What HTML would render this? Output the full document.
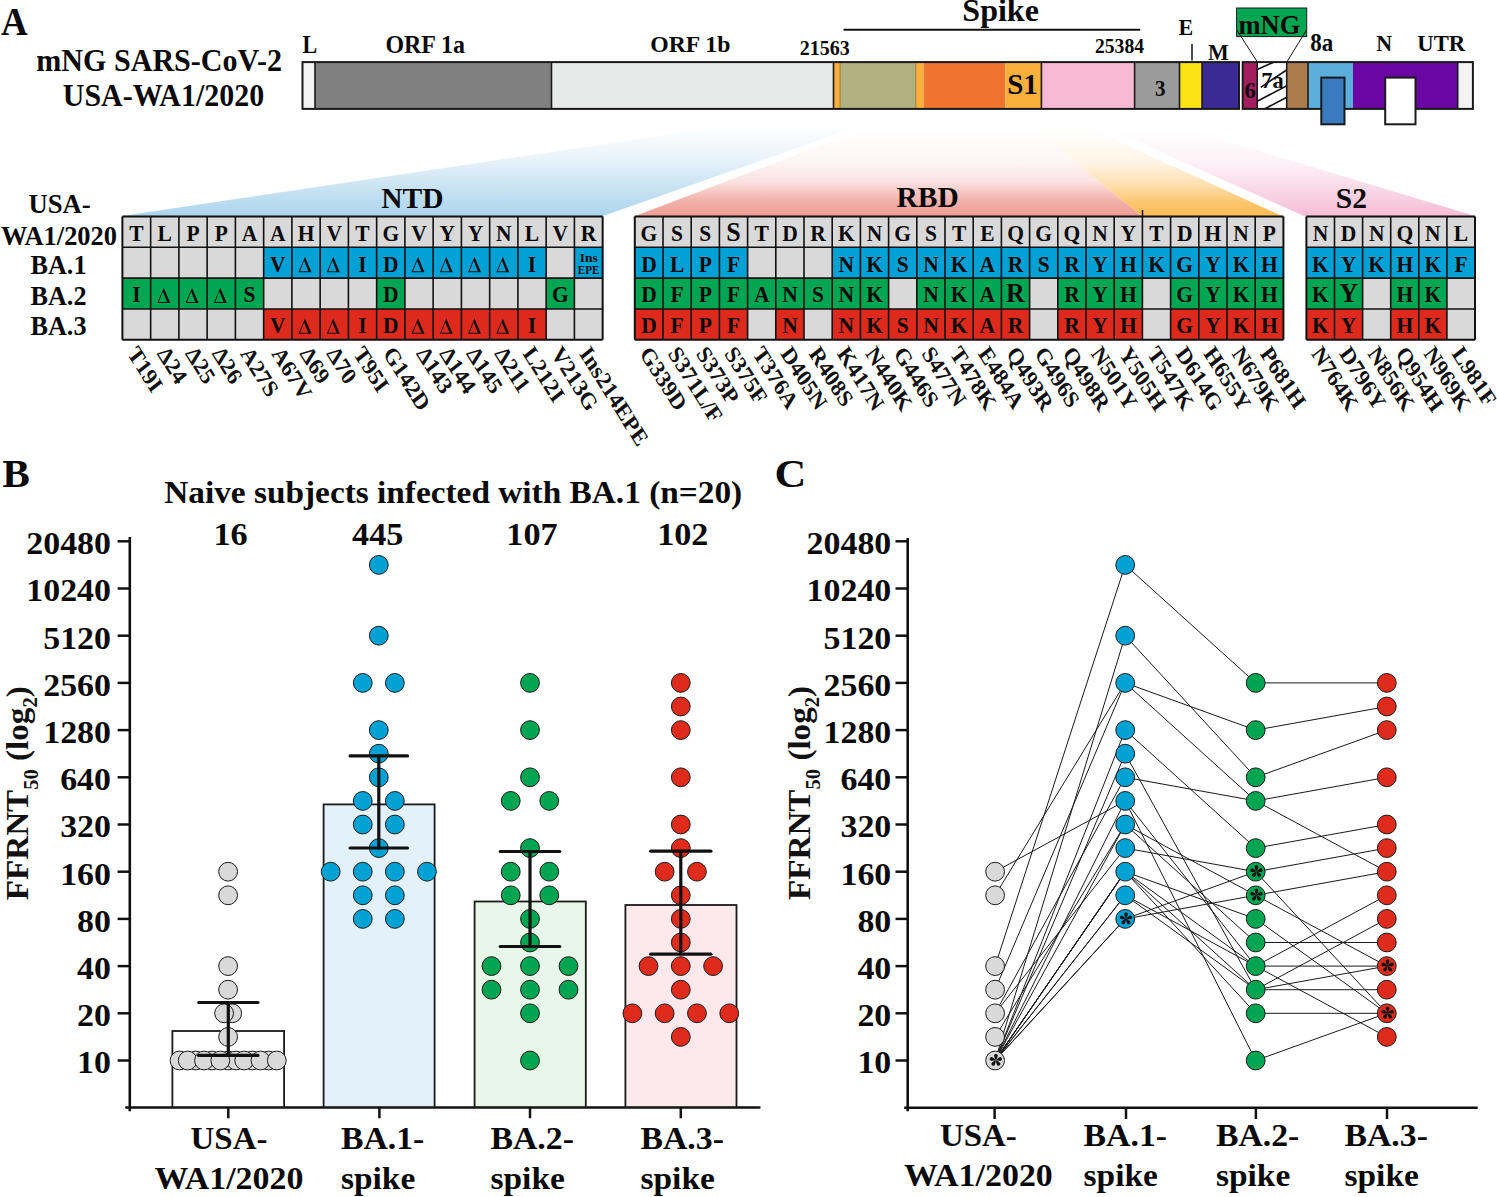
<!DOCTYPE html><html><head><meta charset="utf-8"><style>html,body{margin:0;padding:0;background:#fff;width:1497px;height:1197px;overflow:hidden}svg{display:block}text{font-family:"Liberation Serif",serif}</style></head><body>
<svg width="1497" height="1197" viewBox="0 0 1497 1197">
<defs>
<linearGradient id="gb" x1="0" y1="109" x2="0" y2="216" gradientUnits="userSpaceOnUse"><stop offset="0.15" stop-color="#ffffff"/><stop offset="0.45" stop-color="#eaf4fa"/><stop offset="0.7" stop-color="#cde5f4"/><stop offset="1" stop-color="#acd4ec"/></linearGradient>
<linearGradient id="gr" x1="0" y1="109" x2="0" y2="216" gradientUnits="userSpaceOnUse"><stop offset="0.2" stop-color="#ffffff"/><stop offset="0.5" stop-color="#fdf5f4"/><stop offset="0.68" stop-color="#fae2e0"/><stop offset="0.86" stop-color="#f2b1ab"/><stop offset="1" stop-color="#ef9d96"/></linearGradient>
<linearGradient id="go" x1="0" y1="109" x2="0" y2="216" gradientUnits="userSpaceOnUse"><stop offset="0.2" stop-color="#ffffff"/><stop offset="0.5" stop-color="#fef5e6"/><stop offset="0.7" stop-color="#fde0b2"/><stop offset="0.88" stop-color="#fcc56e"/><stop offset="1" stop-color="#fbbb55"/></linearGradient>
<linearGradient id="gp" x1="0" y1="109" x2="0" y2="216" gradientUnits="userSpaceOnUse"><stop offset="0.2" stop-color="#ffffff"/><stop offset="0.5" stop-color="#fdf2f7"/><stop offset="0.7" stop-color="#fadeea"/><stop offset="1" stop-color="#f6bdd6"/></linearGradient>
<pattern id="hatch" patternUnits="userSpaceOnUse" width="14" height="14" patternTransform="rotate(-30)"><rect width="14" height="14" fill="#fff"/><line x1="0" y1="7" x2="14" y2="7" stroke="#111" stroke-width="1.8"/></pattern>
<g id="ast"><path d="M0,0 C-1.0,-1.6 -1.9,-3.6 -1.8,-5.1 C-1.7,-6.7 1.7,-6.7 1.8,-5.1 C1.9,-3.6 1.0,-1.6 0,0Z" transform="rotate(0)" fill="#111"/><path d="M0,0 C-1.0,-1.6 -1.9,-3.6 -1.8,-5.1 C-1.7,-6.7 1.7,-6.7 1.8,-5.1 C1.9,-3.6 1.0,-1.6 0,0Z" transform="rotate(72)" fill="#111"/><path d="M0,0 C-1.0,-1.6 -1.9,-3.6 -1.8,-5.1 C-1.7,-6.7 1.7,-6.7 1.8,-5.1 C1.9,-3.6 1.0,-1.6 0,0Z" transform="rotate(144)" fill="#111"/><path d="M0,0 C-1.0,-1.6 -1.9,-3.6 -1.8,-5.1 C-1.7,-6.7 1.7,-6.7 1.8,-5.1 C1.9,-3.6 1.0,-1.6 0,0Z" transform="rotate(216)" fill="#111"/><path d="M0,0 C-1.0,-1.6 -1.9,-3.6 -1.8,-5.1 C-1.7,-6.7 1.7,-6.7 1.8,-5.1 C1.9,-3.6 1.0,-1.6 0,0Z" transform="rotate(288)" fill="#111"/></g>
</defs>
<polygon points="122,216 603,216 908,109 840,109" fill="url(#gb)"/>
<polygon points="635,216 1142,216 1009,109 917,109" fill="url(#gr)"/>
<polygon points="1142,216 1282,216 1048,109 1009,109" fill="url(#go)"/>
<polygon points="1304,216 1475,216 1121,109 1064,109" fill="url(#gp)"/>
<text transform="translate(1.00,34.50) scale(1.000,1.080)" font-size="37" text-anchor="start" fill="#0a0a0a" font-weight="bold" >A</text>
<text transform="translate(159.20,70.50) scale(1.020,1.050)" font-size="29.5" text-anchor="middle" fill="#0a0a0a" font-weight="bold" >mNG SARS-CoV-2</text>
<text transform="translate(163.50,106.20) scale(1.026,1.050)" font-size="29.2" text-anchor="middle" fill="#0a0a0a" font-weight="bold" >USA-WA1/2020</text>
<rect x="302.50" y="62.10" width="12.50" height="46.80" fill="#f3f3f3" stroke="none" stroke-width="0" />
<rect x="315.00" y="62.10" width="236.50" height="46.80" fill="#808080" stroke="none" stroke-width="0" />
<rect x="551.50" y="62.10" width="282.00" height="46.80" fill="#e8eae9" stroke="none" stroke-width="0" />
<rect x="833.50" y="62.10" width="6.50" height="46.80" fill="#fbb03b" stroke="none" stroke-width="0" />
<rect x="840.00" y="62.10" width="75.80" height="46.80" fill="#b1b080" stroke="none" stroke-width="0" />
<rect x="915.80" y="62.10" width="7.80" height="46.80" fill="#fbb03b" stroke="none" stroke-width="0" />
<rect x="923.60" y="62.10" width="81.80" height="46.80" fill="#ef7430" stroke="none" stroke-width="0" />
<rect x="1005.40" y="62.10" width="36.00" height="46.80" fill="#fbb03b" stroke="none" stroke-width="0" />
<rect x="1041.40" y="62.10" width="93.20" height="46.80" fill="#f9b9d5" stroke="none" stroke-width="0" />
<rect x="1134.60" y="62.10" width="44.90" height="46.80" fill="#9a9b9a" stroke="none" stroke-width="0" />
<rect x="1179.50" y="62.10" width="22.50" height="46.80" fill="#fde214" stroke="none" stroke-width="0" />
<rect x="1202.00" y="62.10" width="37.00" height="46.80" fill="#3b2a94" stroke="none" stroke-width="0" />
<rect x="1242.70" y="62.10" width="14.50" height="46.80" fill="#a21e5f" stroke="none" stroke-width="0" />
<rect x="1257.20" y="62.10" width="29.50" height="46.80" fill="#ffffff" stroke="none" stroke-width="0" />
<rect x="1286.70" y="62.10" width="21.30" height="46.80" fill="#ab7b4a" stroke="none" stroke-width="0" />
<rect x="1308.00" y="62.10" width="45.00" height="46.80" fill="#5aafdd" stroke="none" stroke-width="0" />
<rect x="1353.00" y="62.10" width="104.70" height="46.80" fill="#6a06a1" stroke="none" stroke-width="0" />
<rect x="1457.70" y="62.10" width="15.20" height="46.80" fill="#f3f3f3" stroke="none" stroke-width="0" />
<line x1="315.00" y1="62.10" x2="315.00" y2="108.90" stroke="#1a1a1a" stroke-width="1.6" />
<line x1="551.50" y1="62.10" x2="551.50" y2="108.90" stroke="#1a1a1a" stroke-width="1.6" />
<line x1="833.50" y1="62.10" x2="833.50" y2="108.90" stroke="#1a1a1a" stroke-width="1.6" />
<line x1="1041.40" y1="62.10" x2="1041.40" y2="108.90" stroke="#1a1a1a" stroke-width="1.6" />
<line x1="1134.60" y1="62.10" x2="1134.60" y2="108.90" stroke="#1a1a1a" stroke-width="1.6" />
<line x1="1179.50" y1="62.10" x2="1179.50" y2="108.90" stroke="#1a1a1a" stroke-width="1.6" />
<line x1="1202.00" y1="62.10" x2="1202.00" y2="108.90" stroke="#1a1a1a" stroke-width="1.6" />
<line x1="1257.20" y1="62.10" x2="1257.20" y2="108.90" stroke="#1a1a1a" stroke-width="1.6" />
<line x1="1286.70" y1="62.10" x2="1286.70" y2="108.90" stroke="#1a1a1a" stroke-width="1.6" />
<line x1="1308.00" y1="62.10" x2="1308.00" y2="108.90" stroke="#1a1a1a" stroke-width="1.6" />
<line x1="1457.70" y1="62.10" x2="1457.70" y2="108.90" stroke="#1a1a1a" stroke-width="1.6" />
<line x1="840.00" y1="62.10" x2="840.00" y2="108.90" stroke="#8a6a30" stroke-width="0.8" />
<line x1="915.80" y1="62.10" x2="915.80" y2="108.90" stroke="#8a6a30" stroke-width="0.8" />
<rect x="302.50" y="62.10" width="936.50" height="46.80" fill="none" stroke="#1a1a1a" stroke-width="2" />
<rect x="1242.70" y="62.10" width="230.20" height="46.80" fill="none" stroke="#1a1a1a" stroke-width="2" />
<rect x="1321.30" y="77.60" width="23.20" height="46.70" fill="#3a7bc0" stroke="#1a1a1a" stroke-width="2" />
<rect x="1385.20" y="77.60" width="30.30" height="46.70" fill="#ffffff" stroke="#1a1a1a" stroke-width="2" />
<text transform="translate(302.40,52.60) scale(1.000,1.100)" font-size="22" text-anchor="start" fill="#0a0a0a" font-weight="bold" >L</text>
<text transform="translate(425.20,52.60) scale(1.050,1.100)" font-size="22.8" text-anchor="middle" fill="#0a0a0a" font-weight="bold" >ORF 1a</text>
<text transform="translate(690.30,52.40) scale(1.040,1.050)" font-size="22.8" text-anchor="middle" fill="#0a0a0a" font-weight="bold" >ORF 1b</text>
<text transform="translate(824.80,54.50) scale(1.000,1.050)" font-size="20" text-anchor="middle" fill="#0a0a0a" font-weight="bold" >21563</text>
<text transform="translate(1119.50,52.90) scale(1.000,1.050)" font-size="19.6" text-anchor="middle" fill="#0a0a0a" font-weight="bold" >25384</text>
<text transform="translate(1000.60,21.00) scale(1.050,1.000)" font-size="30.5" text-anchor="middle" fill="#0a0a0a" font-weight="bold" >Spike</text>
<line x1="843.60" y1="29.70" x2="1140.20" y2="29.70" stroke="#111" stroke-width="2" />
<text transform="translate(1185.80,35.30) scale(1.000,1.050)" font-size="22" text-anchor="middle" fill="#0a0a0a" font-weight="bold" >E</text>
<line x1="1192.00" y1="44.00" x2="1192.00" y2="60.60" stroke="#111" stroke-width="1.5" />
<text transform="translate(1218.40,60.00) scale(1.000,1.050)" font-size="22" text-anchor="middle" fill="#0a0a0a" font-weight="bold" >M</text>
<rect x="1236.60" y="8.00" width="70.10" height="28.60" fill="#00a651" stroke="#1a1a1a" stroke-width="1" />
<text transform="translate(1269.40,33.50) scale(1.040,1.050)" font-size="25.5" text-anchor="middle" fill="#0a0a0a" font-weight="bold" >mNG</text>
<line x1="1236.80" y1="30.00" x2="1257.20" y2="61.70" stroke="#111" stroke-width="1" />
<line x1="1306.50" y1="30.00" x2="1287.00" y2="61.70" stroke="#111" stroke-width="1" />
<text transform="translate(1321.80,50.80) scale(1.000,1.050)" font-size="23" text-anchor="middle" fill="#0a0a0a" font-weight="bold" >8a</text>
<text transform="translate(1384.30,50.80) scale(1.000,1.050)" font-size="22" text-anchor="middle" fill="#0a0a0a" font-weight="bold" >N</text>
<text transform="translate(1441.30,50.80) scale(1.000,1.050)" font-size="22.7" text-anchor="middle" fill="#0a0a0a" font-weight="bold" >UTR</text>
<text transform="translate(1022.50,93.80) scale(1.000,1.050)" font-size="29" text-anchor="middle" fill="#0a0a0a" font-weight="bold" >S1</text>
<text transform="translate(1160.20,96.00) scale(1.000,1.050)" font-size="21" text-anchor="middle" fill="#0a0a0a" font-weight="bold" >3</text>
<text transform="translate(1250.10,98.20) scale(1.000,1.050)" font-size="22.5" text-anchor="middle" fill="#0a0a0a" font-weight="bold" >6</text>
<text transform="translate(1272.60,88.00) scale(1.000,1.050)" font-size="22.5" text-anchor="middle" fill="#0a0a0a" font-weight="bold" >7a</text>
<clipPath id="c7a"><rect x="1257.2" y="62" width="29.5" height="46.5"/></clipPath>
<g clip-path="url(#c7a)" stroke="#111" stroke-width="1.6">
<line x1="1250.00" y1="72.56" x2="1295.00" y2="52.91" stroke="#111" stroke-width="1.6" />
<line x1="1250.00" y1="105.04" x2="1295.00" y2="81.44" stroke="#111" stroke-width="1.6" />
<line x1="1250.00" y1="116.64" x2="1295.00" y2="92.86" stroke="#111" stroke-width="1.6" />
<line x1="1260.70" y1="87.30" x2="1287.00" y2="69.70" stroke="#111" stroke-width="1.6" />
</g>
<rect x="122.40" y="216.40" width="28.25" height="30.85" fill="#d9d9d9" stroke="none" stroke-width="0" />
<rect x="150.65" y="216.40" width="28.25" height="30.85" fill="#d9d9d9" stroke="none" stroke-width="0" />
<rect x="178.90" y="216.40" width="28.25" height="30.85" fill="#d9d9d9" stroke="none" stroke-width="0" />
<rect x="207.15" y="216.40" width="28.25" height="30.85" fill="#d9d9d9" stroke="none" stroke-width="0" />
<rect x="235.40" y="216.40" width="28.25" height="30.85" fill="#d9d9d9" stroke="none" stroke-width="0" />
<rect x="263.65" y="216.40" width="28.25" height="30.85" fill="#d9d9d9" stroke="none" stroke-width="0" />
<rect x="291.90" y="216.40" width="28.25" height="30.85" fill="#d9d9d9" stroke="none" stroke-width="0" />
<rect x="320.15" y="216.40" width="28.25" height="30.85" fill="#d9d9d9" stroke="none" stroke-width="0" />
<rect x="348.40" y="216.40" width="28.25" height="30.85" fill="#d9d9d9" stroke="none" stroke-width="0" />
<rect x="376.65" y="216.40" width="28.25" height="30.85" fill="#d9d9d9" stroke="none" stroke-width="0" />
<rect x="404.90" y="216.40" width="28.25" height="30.85" fill="#d9d9d9" stroke="none" stroke-width="0" />
<rect x="433.15" y="216.40" width="28.25" height="30.85" fill="#d9d9d9" stroke="none" stroke-width="0" />
<rect x="461.40" y="216.40" width="28.25" height="30.85" fill="#d9d9d9" stroke="none" stroke-width="0" />
<rect x="489.65" y="216.40" width="28.25" height="30.85" fill="#d9d9d9" stroke="none" stroke-width="0" />
<rect x="517.90" y="216.40" width="28.25" height="30.85" fill="#d9d9d9" stroke="none" stroke-width="0" />
<rect x="546.15" y="216.40" width="28.25" height="30.85" fill="#d9d9d9" stroke="none" stroke-width="0" />
<rect x="574.40" y="216.40" width="28.25" height="30.85" fill="#d9d9d9" stroke="none" stroke-width="0" />
<rect x="122.40" y="247.25" width="28.25" height="30.85" fill="#d9d9d9" stroke="none" stroke-width="0" />
<rect x="150.65" y="247.25" width="28.25" height="30.85" fill="#d9d9d9" stroke="none" stroke-width="0" />
<rect x="178.90" y="247.25" width="28.25" height="30.85" fill="#d9d9d9" stroke="none" stroke-width="0" />
<rect x="207.15" y="247.25" width="28.25" height="30.85" fill="#d9d9d9" stroke="none" stroke-width="0" />
<rect x="235.40" y="247.25" width="28.25" height="30.85" fill="#d9d9d9" stroke="none" stroke-width="0" />
<rect x="263.65" y="247.25" width="28.25" height="30.85" fill="#00a2d6" stroke="none" stroke-width="0" />
<rect x="291.90" y="247.25" width="28.25" height="30.85" fill="#00a2d6" stroke="none" stroke-width="0" />
<rect x="320.15" y="247.25" width="28.25" height="30.85" fill="#00a2d6" stroke="none" stroke-width="0" />
<rect x="348.40" y="247.25" width="28.25" height="30.85" fill="#00a2d6" stroke="none" stroke-width="0" />
<rect x="376.65" y="247.25" width="28.25" height="30.85" fill="#00a2d6" stroke="none" stroke-width="0" />
<rect x="404.90" y="247.25" width="28.25" height="30.85" fill="#00a2d6" stroke="none" stroke-width="0" />
<rect x="433.15" y="247.25" width="28.25" height="30.85" fill="#00a2d6" stroke="none" stroke-width="0" />
<rect x="461.40" y="247.25" width="28.25" height="30.85" fill="#00a2d6" stroke="none" stroke-width="0" />
<rect x="489.65" y="247.25" width="28.25" height="30.85" fill="#00a2d6" stroke="none" stroke-width="0" />
<rect x="517.90" y="247.25" width="28.25" height="30.85" fill="#00a2d6" stroke="none" stroke-width="0" />
<rect x="546.15" y="247.25" width="28.25" height="30.85" fill="#d9d9d9" stroke="none" stroke-width="0" />
<rect x="574.40" y="247.25" width="28.25" height="30.85" fill="#00a2d6" stroke="none" stroke-width="0" />
<rect x="122.40" y="278.10" width="28.25" height="30.85" fill="#00a651" stroke="none" stroke-width="0" />
<rect x="150.65" y="278.10" width="28.25" height="30.85" fill="#00a651" stroke="none" stroke-width="0" />
<rect x="178.90" y="278.10" width="28.25" height="30.85" fill="#00a651" stroke="none" stroke-width="0" />
<rect x="207.15" y="278.10" width="28.25" height="30.85" fill="#00a651" stroke="none" stroke-width="0" />
<rect x="235.40" y="278.10" width="28.25" height="30.85" fill="#00a651" stroke="none" stroke-width="0" />
<rect x="263.65" y="278.10" width="28.25" height="30.85" fill="#d9d9d9" stroke="none" stroke-width="0" />
<rect x="291.90" y="278.10" width="28.25" height="30.85" fill="#d9d9d9" stroke="none" stroke-width="0" />
<rect x="320.15" y="278.10" width="28.25" height="30.85" fill="#d9d9d9" stroke="none" stroke-width="0" />
<rect x="348.40" y="278.10" width="28.25" height="30.85" fill="#d9d9d9" stroke="none" stroke-width="0" />
<rect x="376.65" y="278.10" width="28.25" height="30.85" fill="#00a651" stroke="none" stroke-width="0" />
<rect x="404.90" y="278.10" width="28.25" height="30.85" fill="#d9d9d9" stroke="none" stroke-width="0" />
<rect x="433.15" y="278.10" width="28.25" height="30.85" fill="#d9d9d9" stroke="none" stroke-width="0" />
<rect x="461.40" y="278.10" width="28.25" height="30.85" fill="#d9d9d9" stroke="none" stroke-width="0" />
<rect x="489.65" y="278.10" width="28.25" height="30.85" fill="#d9d9d9" stroke="none" stroke-width="0" />
<rect x="517.90" y="278.10" width="28.25" height="30.85" fill="#d9d9d9" stroke="none" stroke-width="0" />
<rect x="546.15" y="278.10" width="28.25" height="30.85" fill="#00a651" stroke="none" stroke-width="0" />
<rect x="574.40" y="278.10" width="28.25" height="30.85" fill="#d9d9d9" stroke="none" stroke-width="0" />
<rect x="122.40" y="308.95" width="28.25" height="30.85" fill="#d9d9d9" stroke="none" stroke-width="0" />
<rect x="150.65" y="308.95" width="28.25" height="30.85" fill="#d9d9d9" stroke="none" stroke-width="0" />
<rect x="178.90" y="308.95" width="28.25" height="30.85" fill="#d9d9d9" stroke="none" stroke-width="0" />
<rect x="207.15" y="308.95" width="28.25" height="30.85" fill="#d9d9d9" stroke="none" stroke-width="0" />
<rect x="235.40" y="308.95" width="28.25" height="30.85" fill="#d9d9d9" stroke="none" stroke-width="0" />
<rect x="263.65" y="308.95" width="28.25" height="30.85" fill="#de2a1c" stroke="none" stroke-width="0" />
<rect x="291.90" y="308.95" width="28.25" height="30.85" fill="#de2a1c" stroke="none" stroke-width="0" />
<rect x="320.15" y="308.95" width="28.25" height="30.85" fill="#de2a1c" stroke="none" stroke-width="0" />
<rect x="348.40" y="308.95" width="28.25" height="30.85" fill="#de2a1c" stroke="none" stroke-width="0" />
<rect x="376.65" y="308.95" width="28.25" height="30.85" fill="#de2a1c" stroke="none" stroke-width="0" />
<rect x="404.90" y="308.95" width="28.25" height="30.85" fill="#de2a1c" stroke="none" stroke-width="0" />
<rect x="433.15" y="308.95" width="28.25" height="30.85" fill="#de2a1c" stroke="none" stroke-width="0" />
<rect x="461.40" y="308.95" width="28.25" height="30.85" fill="#de2a1c" stroke="none" stroke-width="0" />
<rect x="489.65" y="308.95" width="28.25" height="30.85" fill="#de2a1c" stroke="none" stroke-width="0" />
<rect x="517.90" y="308.95" width="28.25" height="30.85" fill="#de2a1c" stroke="none" stroke-width="0" />
<rect x="546.15" y="308.95" width="28.25" height="30.85" fill="#d9d9d9" stroke="none" stroke-width="0" />
<rect x="574.40" y="308.95" width="28.25" height="30.85" fill="#d9d9d9" stroke="none" stroke-width="0" />
<line x1="122.40" y1="216.40" x2="602.65" y2="216.40" stroke="#111" stroke-width="2" />
<line x1="122.40" y1="247.25" x2="602.65" y2="247.25" stroke="#111" stroke-width="1.6" />
<line x1="122.40" y1="278.10" x2="602.65" y2="278.10" stroke="#111" stroke-width="1.6" />
<line x1="122.40" y1="308.95" x2="602.65" y2="308.95" stroke="#111" stroke-width="1.6" />
<line x1="122.40" y1="339.80" x2="602.65" y2="339.80" stroke="#111" stroke-width="2" />
<line x1="122.40" y1="216.40" x2="122.40" y2="339.80" stroke="#111" stroke-width="2" />
<line x1="150.65" y1="216.40" x2="150.65" y2="339.80" stroke="#111" stroke-width="1.6" />
<line x1="178.90" y1="216.40" x2="178.90" y2="339.80" stroke="#111" stroke-width="1.6" />
<line x1="207.15" y1="216.40" x2="207.15" y2="339.80" stroke="#111" stroke-width="1.6" />
<line x1="235.40" y1="216.40" x2="235.40" y2="339.80" stroke="#111" stroke-width="1.6" />
<line x1="263.65" y1="216.40" x2="263.65" y2="339.80" stroke="#111" stroke-width="1.6" />
<line x1="291.90" y1="216.40" x2="291.90" y2="339.80" stroke="#111" stroke-width="1.6" />
<line x1="320.15" y1="216.40" x2="320.15" y2="339.80" stroke="#111" stroke-width="1.6" />
<line x1="348.40" y1="216.40" x2="348.40" y2="339.80" stroke="#111" stroke-width="1.6" />
<line x1="376.65" y1="216.40" x2="376.65" y2="339.80" stroke="#111" stroke-width="1.6" />
<line x1="404.90" y1="216.40" x2="404.90" y2="339.80" stroke="#111" stroke-width="1.6" />
<line x1="433.15" y1="216.40" x2="433.15" y2="339.80" stroke="#111" stroke-width="1.6" />
<line x1="461.40" y1="216.40" x2="461.40" y2="339.80" stroke="#111" stroke-width="1.6" />
<line x1="489.65" y1="216.40" x2="489.65" y2="339.80" stroke="#111" stroke-width="1.6" />
<line x1="517.90" y1="216.40" x2="517.90" y2="339.80" stroke="#111" stroke-width="1.6" />
<line x1="546.15" y1="216.40" x2="546.15" y2="339.80" stroke="#111" stroke-width="1.6" />
<line x1="574.40" y1="216.40" x2="574.40" y2="339.80" stroke="#111" stroke-width="1.6" />
<line x1="602.65" y1="216.40" x2="602.65" y2="339.80" stroke="#111" stroke-width="2" />
<text transform="translate(136.53,240.70) scale(1.000,1.080)" font-size="21.5" text-anchor="middle" fill="#0a0a0a" font-weight="bold" >T</text>
<text transform="translate(164.78,240.70) scale(1.000,1.080)" font-size="21.5" text-anchor="middle" fill="#0a0a0a" font-weight="bold" >L</text>
<text transform="translate(193.03,240.70) scale(1.000,1.080)" font-size="21.5" text-anchor="middle" fill="#0a0a0a" font-weight="bold" >P</text>
<text transform="translate(221.28,240.70) scale(1.000,1.080)" font-size="21.5" text-anchor="middle" fill="#0a0a0a" font-weight="bold" >P</text>
<text transform="translate(249.53,240.70) scale(1.000,1.080)" font-size="21.5" text-anchor="middle" fill="#0a0a0a" font-weight="bold" >A</text>
<text transform="translate(277.77,240.70) scale(1.000,1.080)" font-size="21.5" text-anchor="middle" fill="#0a0a0a" font-weight="bold" >A</text>
<text transform="translate(306.02,240.70) scale(1.000,1.080)" font-size="21.5" text-anchor="middle" fill="#0a0a0a" font-weight="bold" >H</text>
<text transform="translate(334.27,240.70) scale(1.000,1.080)" font-size="21.5" text-anchor="middle" fill="#0a0a0a" font-weight="bold" >V</text>
<text transform="translate(362.52,240.70) scale(1.000,1.080)" font-size="21.5" text-anchor="middle" fill="#0a0a0a" font-weight="bold" >T</text>
<text transform="translate(390.77,240.70) scale(1.000,1.080)" font-size="21.5" text-anchor="middle" fill="#0a0a0a" font-weight="bold" >G</text>
<text transform="translate(419.02,240.70) scale(1.000,1.080)" font-size="21.5" text-anchor="middle" fill="#0a0a0a" font-weight="bold" >V</text>
<text transform="translate(447.27,240.70) scale(1.000,1.080)" font-size="21.5" text-anchor="middle" fill="#0a0a0a" font-weight="bold" >Y</text>
<text transform="translate(475.52,240.70) scale(1.000,1.080)" font-size="21.5" text-anchor="middle" fill="#0a0a0a" font-weight="bold" >Y</text>
<text transform="translate(503.77,240.70) scale(1.000,1.080)" font-size="21.5" text-anchor="middle" fill="#0a0a0a" font-weight="bold" >N</text>
<text transform="translate(532.02,240.70) scale(1.000,1.080)" font-size="21.5" text-anchor="middle" fill="#0a0a0a" font-weight="bold" >L</text>
<text transform="translate(560.27,240.70) scale(1.000,1.080)" font-size="21.5" text-anchor="middle" fill="#0a0a0a" font-weight="bold" >V</text>
<text transform="translate(588.52,240.70) scale(1.000,1.080)" font-size="21.5" text-anchor="middle" fill="#0a0a0a" font-weight="bold" >R</text>
<text transform="translate(277.77,271.55) scale(1.000,1.080)" font-size="21.5" text-anchor="middle" fill="#0a0a0a" font-weight="bold" >V</text>
<path transform="translate(305.02,272.15)" fill="#111" fill-rule="evenodd" d="M0,-15.3 L6.5,0 L-6.5,0 Z M-0.9,-11.4 L-5.0,-1.0 L3.3,-1.0 Z"/>
<path transform="translate(333.27,272.15)" fill="#111" fill-rule="evenodd" d="M0,-15.3 L6.5,0 L-6.5,0 Z M-0.9,-11.4 L-5.0,-1.0 L3.3,-1.0 Z"/>
<text transform="translate(362.52,271.55) scale(1.000,1.080)" font-size="21.5" text-anchor="middle" fill="#0a0a0a" font-weight="bold" >I</text>
<text transform="translate(390.77,271.55) scale(1.000,1.080)" font-size="21.5" text-anchor="middle" fill="#0a0a0a" font-weight="bold" >D</text>
<path transform="translate(418.02,272.15)" fill="#111" fill-rule="evenodd" d="M0,-15.3 L6.5,0 L-6.5,0 Z M-0.9,-11.4 L-5.0,-1.0 L3.3,-1.0 Z"/>
<path transform="translate(446.27,272.15)" fill="#111" fill-rule="evenodd" d="M0,-15.3 L6.5,0 L-6.5,0 Z M-0.9,-11.4 L-5.0,-1.0 L3.3,-1.0 Z"/>
<path transform="translate(474.52,272.15)" fill="#111" fill-rule="evenodd" d="M0,-15.3 L6.5,0 L-6.5,0 Z M-0.9,-11.4 L-5.0,-1.0 L3.3,-1.0 Z"/>
<path transform="translate(502.77,272.15)" fill="#111" fill-rule="evenodd" d="M0,-15.3 L6.5,0 L-6.5,0 Z M-0.9,-11.4 L-5.0,-1.0 L3.3,-1.0 Z"/>
<text transform="translate(532.02,271.55) scale(1.000,1.080)" font-size="21.5" text-anchor="middle" fill="#0a0a0a" font-weight="bold" >I</text>
<text transform="translate(588.82,261.65) scale(1.120,1.050)" font-size="12" text-anchor="middle" fill="#0a0a0a" font-weight="bold" >Ins</text>
<text transform="translate(588.52,274.05) scale(1.000,1.050)" font-size="11" text-anchor="middle" fill="#0a0a0a" font-weight="bold" >EPE</text>
<text transform="translate(136.53,302.40) scale(1.000,1.080)" font-size="21.5" text-anchor="middle" fill="#0a0a0a" font-weight="bold" >I</text>
<path transform="translate(163.78,303.00)" fill="#111" fill-rule="evenodd" d="M0,-15.3 L6.5,0 L-6.5,0 Z M-0.9,-11.4 L-5.0,-1.0 L3.3,-1.0 Z"/>
<path transform="translate(192.03,303.00)" fill="#111" fill-rule="evenodd" d="M0,-15.3 L6.5,0 L-6.5,0 Z M-0.9,-11.4 L-5.0,-1.0 L3.3,-1.0 Z"/>
<path transform="translate(220.28,303.00)" fill="#111" fill-rule="evenodd" d="M0,-15.3 L6.5,0 L-6.5,0 Z M-0.9,-11.4 L-5.0,-1.0 L3.3,-1.0 Z"/>
<text transform="translate(249.53,302.40) scale(1.000,1.080)" font-size="21.5" text-anchor="middle" fill="#0a0a0a" font-weight="bold" >S</text>
<text transform="translate(390.77,302.40) scale(1.000,1.080)" font-size="21.5" text-anchor="middle" fill="#0a0a0a" font-weight="bold" >D</text>
<text transform="translate(560.27,302.40) scale(1.000,1.080)" font-size="21.5" text-anchor="middle" fill="#0a0a0a" font-weight="bold" >G</text>
<text transform="translate(277.77,333.25) scale(1.000,1.080)" font-size="21.5" text-anchor="middle" fill="#0a0a0a" font-weight="bold" >V</text>
<path transform="translate(305.02,333.85)" fill="#111" fill-rule="evenodd" d="M0,-15.3 L6.5,0 L-6.5,0 Z M-0.9,-11.4 L-5.0,-1.0 L3.3,-1.0 Z"/>
<path transform="translate(333.27,333.85)" fill="#111" fill-rule="evenodd" d="M0,-15.3 L6.5,0 L-6.5,0 Z M-0.9,-11.4 L-5.0,-1.0 L3.3,-1.0 Z"/>
<text transform="translate(362.52,333.25) scale(1.000,1.080)" font-size="21.5" text-anchor="middle" fill="#0a0a0a" font-weight="bold" >I</text>
<text transform="translate(390.77,333.25) scale(1.000,1.080)" font-size="21.5" text-anchor="middle" fill="#0a0a0a" font-weight="bold" >D</text>
<path transform="translate(418.02,333.85)" fill="#111" fill-rule="evenodd" d="M0,-15.3 L6.5,0 L-6.5,0 Z M-0.9,-11.4 L-5.0,-1.0 L3.3,-1.0 Z"/>
<path transform="translate(446.27,333.85)" fill="#111" fill-rule="evenodd" d="M0,-15.3 L6.5,0 L-6.5,0 Z M-0.9,-11.4 L-5.0,-1.0 L3.3,-1.0 Z"/>
<path transform="translate(474.52,333.85)" fill="#111" fill-rule="evenodd" d="M0,-15.3 L6.5,0 L-6.5,0 Z M-0.9,-11.4 L-5.0,-1.0 L3.3,-1.0 Z"/>
<path transform="translate(502.77,333.85)" fill="#111" fill-rule="evenodd" d="M0,-15.3 L6.5,0 L-6.5,0 Z M-0.9,-11.4 L-5.0,-1.0 L3.3,-1.0 Z"/>
<text transform="translate(532.02,333.25) scale(1.000,1.080)" font-size="21.5" text-anchor="middle" fill="#0a0a0a" font-weight="bold" >I</text>
<text transform="translate(126.70,353.70) scale(1,1.12) rotate(55)" font-size="21.5" font-weight="bold" fill="#111">T19I</text>
<text transform="translate(156.45,353.70) scale(1,1.12) rotate(55)" font-size="21.5" font-weight="bold" fill="#111">Δ24</text>
<text transform="translate(184.70,353.70) scale(1,1.12) rotate(55)" font-size="21.5" font-weight="bold" fill="#111">Δ25</text>
<text transform="translate(211.45,353.70) scale(1,1.12) rotate(55)" font-size="21.5" font-weight="bold" fill="#111">Δ26</text>
<text transform="translate(239.70,353.70) scale(1,1.12) rotate(55)" font-size="21.5" font-weight="bold" fill="#111">A27S</text>
<text transform="translate(270.95,353.70) scale(1,1.12) rotate(55)" font-size="21.5" font-weight="bold" fill="#111">A67V</text>
<text transform="translate(299.20,353.70) scale(1,1.12) rotate(55)" font-size="21.5" font-weight="bold" fill="#111">Δ69</text>
<text transform="translate(325.95,353.70) scale(1,1.12) rotate(55)" font-size="21.5" font-weight="bold" fill="#111">Δ70</text>
<text transform="translate(352.70,353.70) scale(1,1.12) rotate(55)" font-size="21.5" font-weight="bold" fill="#111">T95I</text>
<text transform="translate(382.45,353.70) scale(1,1.12) rotate(55)" font-size="21.5" font-weight="bold" fill="#111">G142D</text>
<text transform="translate(415.70,353.70) scale(1,1.12) rotate(55)" font-size="21.5" font-weight="bold" fill="#111">Δ143</text>
<text transform="translate(438.95,353.70) scale(1,1.12) rotate(55)" font-size="21.5" font-weight="bold" fill="#111">Δ144</text>
<text transform="translate(465.70,353.70) scale(1,1.12) rotate(55)" font-size="21.5" font-weight="bold" fill="#111">Δ145</text>
<text transform="translate(493.95,353.70) scale(1,1.12) rotate(55)" font-size="21.5" font-weight="bold" fill="#111">Δ211</text>
<text transform="translate(522.20,353.70) scale(1,1.12) rotate(55)" font-size="21.5" font-weight="bold" fill="#111">L212I</text>
<text transform="translate(550.45,353.70) scale(1,1.12) rotate(55)" font-size="21.5" font-weight="bold" fill="#111">V213G</text>
<text transform="translate(578.70,353.70) scale(1,1.12) rotate(55)" font-size="21.5" font-weight="bold" fill="#111">Ins214EPE</text>
<rect x="634.80" y="216.40" width="28.20" height="30.85" fill="#d9d9d9" stroke="none" stroke-width="0" />
<rect x="663.00" y="216.40" width="28.20" height="30.85" fill="#d9d9d9" stroke="none" stroke-width="0" />
<rect x="691.20" y="216.40" width="28.20" height="30.85" fill="#d9d9d9" stroke="none" stroke-width="0" />
<rect x="719.40" y="216.40" width="28.20" height="30.85" fill="#d9d9d9" stroke="none" stroke-width="0" />
<rect x="747.60" y="216.40" width="28.20" height="30.85" fill="#d9d9d9" stroke="none" stroke-width="0" />
<rect x="775.80" y="216.40" width="28.20" height="30.85" fill="#d9d9d9" stroke="none" stroke-width="0" />
<rect x="804.00" y="216.40" width="28.20" height="30.85" fill="#d9d9d9" stroke="none" stroke-width="0" />
<rect x="832.20" y="216.40" width="28.20" height="30.85" fill="#d9d9d9" stroke="none" stroke-width="0" />
<rect x="860.40" y="216.40" width="28.20" height="30.85" fill="#d9d9d9" stroke="none" stroke-width="0" />
<rect x="888.60" y="216.40" width="28.20" height="30.85" fill="#d9d9d9" stroke="none" stroke-width="0" />
<rect x="916.80" y="216.40" width="28.20" height="30.85" fill="#d9d9d9" stroke="none" stroke-width="0" />
<rect x="945.00" y="216.40" width="28.20" height="30.85" fill="#d9d9d9" stroke="none" stroke-width="0" />
<rect x="973.20" y="216.40" width="28.20" height="30.85" fill="#d9d9d9" stroke="none" stroke-width="0" />
<rect x="1001.40" y="216.40" width="28.20" height="30.85" fill="#d9d9d9" stroke="none" stroke-width="0" />
<rect x="1029.60" y="216.40" width="28.20" height="30.85" fill="#d9d9d9" stroke="none" stroke-width="0" />
<rect x="1057.80" y="216.40" width="28.20" height="30.85" fill="#d9d9d9" stroke="none" stroke-width="0" />
<rect x="1086.00" y="216.40" width="28.20" height="30.85" fill="#d9d9d9" stroke="none" stroke-width="0" />
<rect x="1114.20" y="216.40" width="28.20" height="30.85" fill="#d9d9d9" stroke="none" stroke-width="0" />
<rect x="1142.40" y="216.40" width="28.20" height="30.85" fill="#d9d9d9" stroke="none" stroke-width="0" />
<rect x="1170.60" y="216.40" width="28.20" height="30.85" fill="#d9d9d9" stroke="none" stroke-width="0" />
<rect x="1198.80" y="216.40" width="28.20" height="30.85" fill="#d9d9d9" stroke="none" stroke-width="0" />
<rect x="1227.00" y="216.40" width="28.20" height="30.85" fill="#d9d9d9" stroke="none" stroke-width="0" />
<rect x="1255.20" y="216.40" width="28.20" height="30.85" fill="#d9d9d9" stroke="none" stroke-width="0" />
<rect x="634.80" y="247.25" width="28.20" height="30.85" fill="#00a2d6" stroke="none" stroke-width="0" />
<rect x="663.00" y="247.25" width="28.20" height="30.85" fill="#00a2d6" stroke="none" stroke-width="0" />
<rect x="691.20" y="247.25" width="28.20" height="30.85" fill="#00a2d6" stroke="none" stroke-width="0" />
<rect x="719.40" y="247.25" width="28.20" height="30.85" fill="#00a2d6" stroke="none" stroke-width="0" />
<rect x="747.60" y="247.25" width="28.20" height="30.85" fill="#d9d9d9" stroke="none" stroke-width="0" />
<rect x="775.80" y="247.25" width="28.20" height="30.85" fill="#d9d9d9" stroke="none" stroke-width="0" />
<rect x="804.00" y="247.25" width="28.20" height="30.85" fill="#d9d9d9" stroke="none" stroke-width="0" />
<rect x="832.20" y="247.25" width="28.20" height="30.85" fill="#00a2d6" stroke="none" stroke-width="0" />
<rect x="860.40" y="247.25" width="28.20" height="30.85" fill="#00a2d6" stroke="none" stroke-width="0" />
<rect x="888.60" y="247.25" width="28.20" height="30.85" fill="#00a2d6" stroke="none" stroke-width="0" />
<rect x="916.80" y="247.25" width="28.20" height="30.85" fill="#00a2d6" stroke="none" stroke-width="0" />
<rect x="945.00" y="247.25" width="28.20" height="30.85" fill="#00a2d6" stroke="none" stroke-width="0" />
<rect x="973.20" y="247.25" width="28.20" height="30.85" fill="#00a2d6" stroke="none" stroke-width="0" />
<rect x="1001.40" y="247.25" width="28.20" height="30.85" fill="#00a2d6" stroke="none" stroke-width="0" />
<rect x="1029.60" y="247.25" width="28.20" height="30.85" fill="#00a2d6" stroke="none" stroke-width="0" />
<rect x="1057.80" y="247.25" width="28.20" height="30.85" fill="#00a2d6" stroke="none" stroke-width="0" />
<rect x="1086.00" y="247.25" width="28.20" height="30.85" fill="#00a2d6" stroke="none" stroke-width="0" />
<rect x="1114.20" y="247.25" width="28.20" height="30.85" fill="#00a2d6" stroke="none" stroke-width="0" />
<rect x="1142.40" y="247.25" width="28.20" height="30.85" fill="#00a2d6" stroke="none" stroke-width="0" />
<rect x="1170.60" y="247.25" width="28.20" height="30.85" fill="#00a2d6" stroke="none" stroke-width="0" />
<rect x="1198.80" y="247.25" width="28.20" height="30.85" fill="#00a2d6" stroke="none" stroke-width="0" />
<rect x="1227.00" y="247.25" width="28.20" height="30.85" fill="#00a2d6" stroke="none" stroke-width="0" />
<rect x="1255.20" y="247.25" width="28.20" height="30.85" fill="#00a2d6" stroke="none" stroke-width="0" />
<rect x="634.80" y="278.10" width="28.20" height="30.85" fill="#00a651" stroke="none" stroke-width="0" />
<rect x="663.00" y="278.10" width="28.20" height="30.85" fill="#00a651" stroke="none" stroke-width="0" />
<rect x="691.20" y="278.10" width="28.20" height="30.85" fill="#00a651" stroke="none" stroke-width="0" />
<rect x="719.40" y="278.10" width="28.20" height="30.85" fill="#00a651" stroke="none" stroke-width="0" />
<rect x="747.60" y="278.10" width="28.20" height="30.85" fill="#00a651" stroke="none" stroke-width="0" />
<rect x="775.80" y="278.10" width="28.20" height="30.85" fill="#00a651" stroke="none" stroke-width="0" />
<rect x="804.00" y="278.10" width="28.20" height="30.85" fill="#00a651" stroke="none" stroke-width="0" />
<rect x="832.20" y="278.10" width="28.20" height="30.85" fill="#00a651" stroke="none" stroke-width="0" />
<rect x="860.40" y="278.10" width="28.20" height="30.85" fill="#00a651" stroke="none" stroke-width="0" />
<rect x="888.60" y="278.10" width="28.20" height="30.85" fill="#d9d9d9" stroke="none" stroke-width="0" />
<rect x="916.80" y="278.10" width="28.20" height="30.85" fill="#00a651" stroke="none" stroke-width="0" />
<rect x="945.00" y="278.10" width="28.20" height="30.85" fill="#00a651" stroke="none" stroke-width="0" />
<rect x="973.20" y="278.10" width="28.20" height="30.85" fill="#00a651" stroke="none" stroke-width="0" />
<rect x="1001.40" y="278.10" width="28.20" height="30.85" fill="#00a651" stroke="none" stroke-width="0" />
<rect x="1029.60" y="278.10" width="28.20" height="30.85" fill="#d9d9d9" stroke="none" stroke-width="0" />
<rect x="1057.80" y="278.10" width="28.20" height="30.85" fill="#00a651" stroke="none" stroke-width="0" />
<rect x="1086.00" y="278.10" width="28.20" height="30.85" fill="#00a651" stroke="none" stroke-width="0" />
<rect x="1114.20" y="278.10" width="28.20" height="30.85" fill="#00a651" stroke="none" stroke-width="0" />
<rect x="1142.40" y="278.10" width="28.20" height="30.85" fill="#d9d9d9" stroke="none" stroke-width="0" />
<rect x="1170.60" y="278.10" width="28.20" height="30.85" fill="#00a651" stroke="none" stroke-width="0" />
<rect x="1198.80" y="278.10" width="28.20" height="30.85" fill="#00a651" stroke="none" stroke-width="0" />
<rect x="1227.00" y="278.10" width="28.20" height="30.85" fill="#00a651" stroke="none" stroke-width="0" />
<rect x="1255.20" y="278.10" width="28.20" height="30.85" fill="#00a651" stroke="none" stroke-width="0" />
<rect x="634.80" y="308.95" width="28.20" height="30.85" fill="#de2a1c" stroke="none" stroke-width="0" />
<rect x="663.00" y="308.95" width="28.20" height="30.85" fill="#de2a1c" stroke="none" stroke-width="0" />
<rect x="691.20" y="308.95" width="28.20" height="30.85" fill="#de2a1c" stroke="none" stroke-width="0" />
<rect x="719.40" y="308.95" width="28.20" height="30.85" fill="#de2a1c" stroke="none" stroke-width="0" />
<rect x="747.60" y="308.95" width="28.20" height="30.85" fill="#d9d9d9" stroke="none" stroke-width="0" />
<rect x="775.80" y="308.95" width="28.20" height="30.85" fill="#de2a1c" stroke="none" stroke-width="0" />
<rect x="804.00" y="308.95" width="28.20" height="30.85" fill="#d9d9d9" stroke="none" stroke-width="0" />
<rect x="832.20" y="308.95" width="28.20" height="30.85" fill="#de2a1c" stroke="none" stroke-width="0" />
<rect x="860.40" y="308.95" width="28.20" height="30.85" fill="#de2a1c" stroke="none" stroke-width="0" />
<rect x="888.60" y="308.95" width="28.20" height="30.85" fill="#de2a1c" stroke="none" stroke-width="0" />
<rect x="916.80" y="308.95" width="28.20" height="30.85" fill="#de2a1c" stroke="none" stroke-width="0" />
<rect x="945.00" y="308.95" width="28.20" height="30.85" fill="#de2a1c" stroke="none" stroke-width="0" />
<rect x="973.20" y="308.95" width="28.20" height="30.85" fill="#de2a1c" stroke="none" stroke-width="0" />
<rect x="1001.40" y="308.95" width="28.20" height="30.85" fill="#de2a1c" stroke="none" stroke-width="0" />
<rect x="1029.60" y="308.95" width="28.20" height="30.85" fill="#d9d9d9" stroke="none" stroke-width="0" />
<rect x="1057.80" y="308.95" width="28.20" height="30.85" fill="#de2a1c" stroke="none" stroke-width="0" />
<rect x="1086.00" y="308.95" width="28.20" height="30.85" fill="#de2a1c" stroke="none" stroke-width="0" />
<rect x="1114.20" y="308.95" width="28.20" height="30.85" fill="#de2a1c" stroke="none" stroke-width="0" />
<rect x="1142.40" y="308.95" width="28.20" height="30.85" fill="#d9d9d9" stroke="none" stroke-width="0" />
<rect x="1170.60" y="308.95" width="28.20" height="30.85" fill="#de2a1c" stroke="none" stroke-width="0" />
<rect x="1198.80" y="308.95" width="28.20" height="30.85" fill="#de2a1c" stroke="none" stroke-width="0" />
<rect x="1227.00" y="308.95" width="28.20" height="30.85" fill="#de2a1c" stroke="none" stroke-width="0" />
<rect x="1255.20" y="308.95" width="28.20" height="30.85" fill="#de2a1c" stroke="none" stroke-width="0" />
<line x1="634.80" y1="216.40" x2="1283.40" y2="216.40" stroke="#111" stroke-width="2" />
<line x1="634.80" y1="247.25" x2="1283.40" y2="247.25" stroke="#111" stroke-width="1.6" />
<line x1="634.80" y1="278.10" x2="1283.40" y2="278.10" stroke="#111" stroke-width="1.6" />
<line x1="634.80" y1="308.95" x2="1283.40" y2="308.95" stroke="#111" stroke-width="1.6" />
<line x1="634.80" y1="339.80" x2="1283.40" y2="339.80" stroke="#111" stroke-width="2" />
<line x1="634.80" y1="216.40" x2="634.80" y2="339.80" stroke="#111" stroke-width="2" />
<line x1="663.00" y1="216.40" x2="663.00" y2="339.80" stroke="#111" stroke-width="1.6" />
<line x1="691.20" y1="216.40" x2="691.20" y2="339.80" stroke="#111" stroke-width="1.6" />
<line x1="719.40" y1="216.40" x2="719.40" y2="339.80" stroke="#111" stroke-width="1.6" />
<line x1="747.60" y1="216.40" x2="747.60" y2="339.80" stroke="#111" stroke-width="1.6" />
<line x1="775.80" y1="216.40" x2="775.80" y2="339.80" stroke="#111" stroke-width="1.6" />
<line x1="804.00" y1="216.40" x2="804.00" y2="339.80" stroke="#111" stroke-width="1.6" />
<line x1="832.20" y1="216.40" x2="832.20" y2="339.80" stroke="#111" stroke-width="1.6" />
<line x1="860.40" y1="216.40" x2="860.40" y2="339.80" stroke="#111" stroke-width="1.6" />
<line x1="888.60" y1="216.40" x2="888.60" y2="339.80" stroke="#111" stroke-width="1.6" />
<line x1="916.80" y1="216.40" x2="916.80" y2="339.80" stroke="#111" stroke-width="1.6" />
<line x1="945.00" y1="216.40" x2="945.00" y2="339.80" stroke="#111" stroke-width="1.6" />
<line x1="973.20" y1="216.40" x2="973.20" y2="339.80" stroke="#111" stroke-width="1.6" />
<line x1="1001.40" y1="216.40" x2="1001.40" y2="339.80" stroke="#111" stroke-width="1.6" />
<line x1="1029.60" y1="216.40" x2="1029.60" y2="339.80" stroke="#111" stroke-width="1.6" />
<line x1="1057.80" y1="216.40" x2="1057.80" y2="339.80" stroke="#111" stroke-width="1.6" />
<line x1="1086.00" y1="216.40" x2="1086.00" y2="339.80" stroke="#111" stroke-width="1.6" />
<line x1="1114.20" y1="216.40" x2="1114.20" y2="339.80" stroke="#111" stroke-width="1.6" />
<line x1="1142.40" y1="216.40" x2="1142.40" y2="339.80" stroke="#111" stroke-width="1.6" />
<line x1="1170.60" y1="216.40" x2="1170.60" y2="339.80" stroke="#111" stroke-width="1.6" />
<line x1="1198.80" y1="216.40" x2="1198.80" y2="339.80" stroke="#111" stroke-width="1.6" />
<line x1="1227.00" y1="216.40" x2="1227.00" y2="339.80" stroke="#111" stroke-width="1.6" />
<line x1="1255.20" y1="216.40" x2="1255.20" y2="339.80" stroke="#111" stroke-width="1.6" />
<line x1="1283.40" y1="216.40" x2="1283.40" y2="339.80" stroke="#111" stroke-width="2" />
<text transform="translate(648.90,240.70) scale(1.000,1.080)" font-size="21.5" text-anchor="middle" fill="#0a0a0a" font-weight="bold" >G</text>
<text transform="translate(677.10,240.70) scale(1.000,1.080)" font-size="21.5" text-anchor="middle" fill="#0a0a0a" font-weight="bold" >S</text>
<text transform="translate(705.30,240.70) scale(1.000,1.080)" font-size="21.5" text-anchor="middle" fill="#0a0a0a" font-weight="bold" >S</text>
<text transform="translate(733.50,240.70) scale(1.000,1.080)" font-size="26" text-anchor="middle" fill="#0a0a0a" font-weight="bold" >S</text>
<text transform="translate(761.70,240.70) scale(1.000,1.080)" font-size="21.5" text-anchor="middle" fill="#0a0a0a" font-weight="bold" >T</text>
<text transform="translate(789.90,240.70) scale(1.000,1.080)" font-size="21.5" text-anchor="middle" fill="#0a0a0a" font-weight="bold" >D</text>
<text transform="translate(818.10,240.70) scale(1.000,1.080)" font-size="21.5" text-anchor="middle" fill="#0a0a0a" font-weight="bold" >R</text>
<text transform="translate(846.30,240.70) scale(1.000,1.080)" font-size="21.5" text-anchor="middle" fill="#0a0a0a" font-weight="bold" >K</text>
<text transform="translate(874.50,240.70) scale(1.000,1.080)" font-size="21.5" text-anchor="middle" fill="#0a0a0a" font-weight="bold" >N</text>
<text transform="translate(902.70,240.70) scale(1.000,1.080)" font-size="21.5" text-anchor="middle" fill="#0a0a0a" font-weight="bold" >G</text>
<text transform="translate(930.90,240.70) scale(1.000,1.080)" font-size="21.5" text-anchor="middle" fill="#0a0a0a" font-weight="bold" >S</text>
<text transform="translate(959.10,240.70) scale(1.000,1.080)" font-size="21.5" text-anchor="middle" fill="#0a0a0a" font-weight="bold" >T</text>
<text transform="translate(987.30,240.70) scale(1.000,1.080)" font-size="21.5" text-anchor="middle" fill="#0a0a0a" font-weight="bold" >E</text>
<text transform="translate(1015.50,240.70) scale(1.000,1.080)" font-size="21.5" text-anchor="middle" fill="#0a0a0a" font-weight="bold" >Q</text>
<text transform="translate(1043.70,240.70) scale(1.000,1.080)" font-size="21.5" text-anchor="middle" fill="#0a0a0a" font-weight="bold" >G</text>
<text transform="translate(1071.90,240.70) scale(1.000,1.080)" font-size="21.5" text-anchor="middle" fill="#0a0a0a" font-weight="bold" >Q</text>
<text transform="translate(1100.10,240.70) scale(1.000,1.080)" font-size="21.5" text-anchor="middle" fill="#0a0a0a" font-weight="bold" >N</text>
<text transform="translate(1128.30,240.70) scale(1.000,1.080)" font-size="21.5" text-anchor="middle" fill="#0a0a0a" font-weight="bold" >Y</text>
<text transform="translate(1156.50,240.70) scale(1.000,1.080)" font-size="21.5" text-anchor="middle" fill="#0a0a0a" font-weight="bold" >T</text>
<text transform="translate(1184.70,240.70) scale(1.000,1.080)" font-size="21.5" text-anchor="middle" fill="#0a0a0a" font-weight="bold" >D</text>
<text transform="translate(1212.90,240.70) scale(1.000,1.080)" font-size="21.5" text-anchor="middle" fill="#0a0a0a" font-weight="bold" >H</text>
<text transform="translate(1241.10,240.70) scale(1.000,1.080)" font-size="21.5" text-anchor="middle" fill="#0a0a0a" font-weight="bold" >N</text>
<text transform="translate(1269.30,240.70) scale(1.000,1.080)" font-size="21.5" text-anchor="middle" fill="#0a0a0a" font-weight="bold" >P</text>
<text transform="translate(648.90,271.55) scale(1.000,1.080)" font-size="21.5" text-anchor="middle" fill="#0a0a0a" font-weight="bold" >D</text>
<text transform="translate(677.10,271.55) scale(1.000,1.080)" font-size="21.5" text-anchor="middle" fill="#0a0a0a" font-weight="bold" >L</text>
<text transform="translate(705.30,271.55) scale(1.000,1.080)" font-size="21.5" text-anchor="middle" fill="#0a0a0a" font-weight="bold" >P</text>
<text transform="translate(733.50,271.55) scale(1.000,1.080)" font-size="21.5" text-anchor="middle" fill="#0a0a0a" font-weight="bold" >F</text>
<text transform="translate(846.30,271.55) scale(1.000,1.080)" font-size="21.5" text-anchor="middle" fill="#0a0a0a" font-weight="bold" >N</text>
<text transform="translate(874.50,271.55) scale(1.000,1.080)" font-size="21.5" text-anchor="middle" fill="#0a0a0a" font-weight="bold" >K</text>
<text transform="translate(902.70,271.55) scale(1.000,1.080)" font-size="21.5" text-anchor="middle" fill="#0a0a0a" font-weight="bold" >S</text>
<text transform="translate(930.90,271.55) scale(1.000,1.080)" font-size="21.5" text-anchor="middle" fill="#0a0a0a" font-weight="bold" >N</text>
<text transform="translate(959.10,271.55) scale(1.000,1.080)" font-size="21.5" text-anchor="middle" fill="#0a0a0a" font-weight="bold" >K</text>
<text transform="translate(987.30,271.55) scale(1.000,1.080)" font-size="21.5" text-anchor="middle" fill="#0a0a0a" font-weight="bold" >A</text>
<text transform="translate(1015.50,271.55) scale(1.000,1.080)" font-size="21.5" text-anchor="middle" fill="#0a0a0a" font-weight="bold" >R</text>
<text transform="translate(1043.70,271.55) scale(1.000,1.080)" font-size="21.5" text-anchor="middle" fill="#0a0a0a" font-weight="bold" >S</text>
<text transform="translate(1071.90,271.55) scale(1.000,1.080)" font-size="21.5" text-anchor="middle" fill="#0a0a0a" font-weight="bold" >R</text>
<text transform="translate(1100.10,271.55) scale(1.000,1.080)" font-size="21.5" text-anchor="middle" fill="#0a0a0a" font-weight="bold" >Y</text>
<text transform="translate(1128.30,271.55) scale(1.000,1.080)" font-size="21.5" text-anchor="middle" fill="#0a0a0a" font-weight="bold" >H</text>
<text transform="translate(1156.50,271.55) scale(1.000,1.080)" font-size="21.5" text-anchor="middle" fill="#0a0a0a" font-weight="bold" >K</text>
<text transform="translate(1184.70,271.55) scale(1.000,1.080)" font-size="21.5" text-anchor="middle" fill="#0a0a0a" font-weight="bold" >G</text>
<text transform="translate(1212.90,271.55) scale(1.000,1.080)" font-size="21.5" text-anchor="middle" fill="#0a0a0a" font-weight="bold" >Y</text>
<text transform="translate(1241.10,271.55) scale(1.000,1.080)" font-size="21.5" text-anchor="middle" fill="#0a0a0a" font-weight="bold" >K</text>
<text transform="translate(1269.30,271.55) scale(1.000,1.080)" font-size="21.5" text-anchor="middle" fill="#0a0a0a" font-weight="bold" >H</text>
<text transform="translate(648.90,302.40) scale(1.000,1.080)" font-size="21.5" text-anchor="middle" fill="#0a0a0a" font-weight="bold" >D</text>
<text transform="translate(677.10,302.40) scale(1.000,1.080)" font-size="21.5" text-anchor="middle" fill="#0a0a0a" font-weight="bold" >F</text>
<text transform="translate(705.30,302.40) scale(1.000,1.080)" font-size="21.5" text-anchor="middle" fill="#0a0a0a" font-weight="bold" >P</text>
<text transform="translate(733.50,302.40) scale(1.000,1.080)" font-size="21.5" text-anchor="middle" fill="#0a0a0a" font-weight="bold" >F</text>
<text transform="translate(761.70,302.40) scale(1.000,1.080)" font-size="21.5" text-anchor="middle" fill="#0a0a0a" font-weight="bold" >A</text>
<text transform="translate(789.90,302.40) scale(1.000,1.080)" font-size="21.5" text-anchor="middle" fill="#0a0a0a" font-weight="bold" >N</text>
<text transform="translate(818.10,302.40) scale(1.000,1.080)" font-size="21.5" text-anchor="middle" fill="#0a0a0a" font-weight="bold" >S</text>
<text transform="translate(846.30,302.40) scale(1.000,1.080)" font-size="21.5" text-anchor="middle" fill="#0a0a0a" font-weight="bold" >N</text>
<text transform="translate(874.50,302.40) scale(1.000,1.080)" font-size="21.5" text-anchor="middle" fill="#0a0a0a" font-weight="bold" >K</text>
<text transform="translate(930.90,302.40) scale(1.000,1.080)" font-size="21.5" text-anchor="middle" fill="#0a0a0a" font-weight="bold" >N</text>
<text transform="translate(959.10,302.40) scale(1.000,1.080)" font-size="21.5" text-anchor="middle" fill="#0a0a0a" font-weight="bold" >K</text>
<text transform="translate(987.30,302.40) scale(1.000,1.080)" font-size="21.5" text-anchor="middle" fill="#0a0a0a" font-weight="bold" >A</text>
<text transform="translate(1015.50,302.40) scale(1.000,1.080)" font-size="26" text-anchor="middle" fill="#0a0a0a" font-weight="bold" >R</text>
<text transform="translate(1071.90,302.40) scale(1.000,1.080)" font-size="21.5" text-anchor="middle" fill="#0a0a0a" font-weight="bold" >R</text>
<text transform="translate(1100.10,302.40) scale(1.000,1.080)" font-size="21.5" text-anchor="middle" fill="#0a0a0a" font-weight="bold" >Y</text>
<text transform="translate(1128.30,302.40) scale(1.000,1.080)" font-size="21.5" text-anchor="middle" fill="#0a0a0a" font-weight="bold" >H</text>
<text transform="translate(1184.70,302.40) scale(1.000,1.080)" font-size="21.5" text-anchor="middle" fill="#0a0a0a" font-weight="bold" >G</text>
<text transform="translate(1212.90,302.40) scale(1.000,1.080)" font-size="21.5" text-anchor="middle" fill="#0a0a0a" font-weight="bold" >Y</text>
<text transform="translate(1241.10,302.40) scale(1.000,1.080)" font-size="21.5" text-anchor="middle" fill="#0a0a0a" font-weight="bold" >K</text>
<text transform="translate(1269.30,302.40) scale(1.000,1.080)" font-size="21.5" text-anchor="middle" fill="#0a0a0a" font-weight="bold" >H</text>
<text transform="translate(648.90,333.25) scale(1.000,1.080)" font-size="21.5" text-anchor="middle" fill="#0a0a0a" font-weight="bold" >D</text>
<text transform="translate(677.10,333.25) scale(1.000,1.080)" font-size="21.5" text-anchor="middle" fill="#0a0a0a" font-weight="bold" >F</text>
<text transform="translate(705.30,333.25) scale(1.000,1.080)" font-size="21.5" text-anchor="middle" fill="#0a0a0a" font-weight="bold" >P</text>
<text transform="translate(733.50,333.25) scale(1.000,1.080)" font-size="21.5" text-anchor="middle" fill="#0a0a0a" font-weight="bold" >F</text>
<text transform="translate(789.90,333.25) scale(1.000,1.080)" font-size="21.5" text-anchor="middle" fill="#0a0a0a" font-weight="bold" >N</text>
<text transform="translate(846.30,333.25) scale(1.000,1.080)" font-size="21.5" text-anchor="middle" fill="#0a0a0a" font-weight="bold" >N</text>
<text transform="translate(874.50,333.25) scale(1.000,1.080)" font-size="21.5" text-anchor="middle" fill="#0a0a0a" font-weight="bold" >K</text>
<text transform="translate(902.70,333.25) scale(1.000,1.080)" font-size="21.5" text-anchor="middle" fill="#0a0a0a" font-weight="bold" >S</text>
<text transform="translate(930.90,333.25) scale(1.000,1.080)" font-size="21.5" text-anchor="middle" fill="#0a0a0a" font-weight="bold" >N</text>
<text transform="translate(959.10,333.25) scale(1.000,1.080)" font-size="21.5" text-anchor="middle" fill="#0a0a0a" font-weight="bold" >K</text>
<text transform="translate(987.30,333.25) scale(1.000,1.080)" font-size="21.5" text-anchor="middle" fill="#0a0a0a" font-weight="bold" >A</text>
<text transform="translate(1015.50,333.25) scale(1.000,1.080)" font-size="21.5" text-anchor="middle" fill="#0a0a0a" font-weight="bold" >R</text>
<text transform="translate(1071.90,333.25) scale(1.000,1.080)" font-size="21.5" text-anchor="middle" fill="#0a0a0a" font-weight="bold" >R</text>
<text transform="translate(1100.10,333.25) scale(1.000,1.080)" font-size="21.5" text-anchor="middle" fill="#0a0a0a" font-weight="bold" >Y</text>
<text transform="translate(1128.30,333.25) scale(1.000,1.080)" font-size="21.5" text-anchor="middle" fill="#0a0a0a" font-weight="bold" >H</text>
<text transform="translate(1184.70,333.25) scale(1.000,1.080)" font-size="21.5" text-anchor="middle" fill="#0a0a0a" font-weight="bold" >G</text>
<text transform="translate(1212.90,333.25) scale(1.000,1.080)" font-size="21.5" text-anchor="middle" fill="#0a0a0a" font-weight="bold" >Y</text>
<text transform="translate(1241.10,333.25) scale(1.000,1.080)" font-size="21.5" text-anchor="middle" fill="#0a0a0a" font-weight="bold" >K</text>
<text transform="translate(1269.30,333.25) scale(1.000,1.080)" font-size="21.5" text-anchor="middle" fill="#0a0a0a" font-weight="bold" >H</text>
<text transform="translate(639.10,353.70) scale(1,1.12) rotate(55)" font-size="21.5" font-weight="bold" fill="#111">G339D</text>
<text transform="translate(667.30,353.70) scale(1,1.12) rotate(55)" font-size="21.5" font-weight="bold" fill="#111">S371L/F</text>
<text transform="translate(695.50,353.70) scale(1,1.12) rotate(55)" font-size="21.5" font-weight="bold" fill="#111">S373P</text>
<text transform="translate(723.70,353.70) scale(1,1.12) rotate(55)" font-size="21.5" font-weight="bold" fill="#111">S375F</text>
<text transform="translate(751.90,353.70) scale(1,1.12) rotate(55)" font-size="21.5" font-weight="bold" fill="#111">T376A</text>
<text transform="translate(780.10,353.70) scale(1,1.12) rotate(55)" font-size="21.5" font-weight="bold" fill="#111">D405N</text>
<text transform="translate(808.30,353.70) scale(1,1.12) rotate(55)" font-size="21.5" font-weight="bold" fill="#111">R408S</text>
<text transform="translate(836.50,353.70) scale(1,1.12) rotate(55)" font-size="21.5" font-weight="bold" fill="#111">K417N</text>
<text transform="translate(864.70,353.70) scale(1,1.12) rotate(55)" font-size="21.5" font-weight="bold" fill="#111">N440K</text>
<text transform="translate(892.90,353.70) scale(1,1.12) rotate(55)" font-size="21.5" font-weight="bold" fill="#111">G446S</text>
<text transform="translate(921.10,353.70) scale(1,1.12) rotate(55)" font-size="21.5" font-weight="bold" fill="#111">S477N</text>
<text transform="translate(949.30,353.70) scale(1,1.12) rotate(55)" font-size="21.5" font-weight="bold" fill="#111">T478K</text>
<text transform="translate(977.50,353.70) scale(1,1.12) rotate(55)" font-size="21.5" font-weight="bold" fill="#111">E484A</text>
<text transform="translate(1005.70,353.70) scale(1,1.12) rotate(55)" font-size="21.5" font-weight="bold" fill="#111">Q493R</text>
<text transform="translate(1033.90,353.70) scale(1,1.12) rotate(55)" font-size="21.5" font-weight="bold" fill="#111">G496S</text>
<text transform="translate(1062.10,353.70) scale(1,1.12) rotate(55)" font-size="21.5" font-weight="bold" fill="#111">Q498R</text>
<text transform="translate(1090.30,353.70) scale(1,1.12) rotate(55)" font-size="21.5" font-weight="bold" fill="#111">N501Y</text>
<text transform="translate(1118.50,353.70) scale(1,1.12) rotate(55)" font-size="21.5" font-weight="bold" fill="#111">Y505H</text>
<text transform="translate(1146.70,353.70) scale(1,1.12) rotate(55)" font-size="21.5" font-weight="bold" fill="#111">T547K</text>
<text transform="translate(1174.90,353.70) scale(1,1.12) rotate(55)" font-size="21.5" font-weight="bold" fill="#111">D614G</text>
<text transform="translate(1203.10,353.70) scale(1,1.12) rotate(55)" font-size="21.5" font-weight="bold" fill="#111">H655Y</text>
<text transform="translate(1231.30,353.70) scale(1,1.12) rotate(55)" font-size="21.5" font-weight="bold" fill="#111">N679K</text>
<text transform="translate(1259.50,353.70) scale(1,1.12) rotate(55)" font-size="21.5" font-weight="bold" fill="#111">P681H</text>
<rect x="1306.40" y="216.40" width="28.10" height="30.85" fill="#d9d9d9" stroke="none" stroke-width="0" />
<rect x="1334.50" y="216.40" width="28.10" height="30.85" fill="#d9d9d9" stroke="none" stroke-width="0" />
<rect x="1362.60" y="216.40" width="28.10" height="30.85" fill="#d9d9d9" stroke="none" stroke-width="0" />
<rect x="1390.70" y="216.40" width="28.10" height="30.85" fill="#d9d9d9" stroke="none" stroke-width="0" />
<rect x="1418.80" y="216.40" width="28.10" height="30.85" fill="#d9d9d9" stroke="none" stroke-width="0" />
<rect x="1446.90" y="216.40" width="28.10" height="30.85" fill="#d9d9d9" stroke="none" stroke-width="0" />
<rect x="1306.40" y="247.25" width="28.10" height="30.85" fill="#00a2d6" stroke="none" stroke-width="0" />
<rect x="1334.50" y="247.25" width="28.10" height="30.85" fill="#00a2d6" stroke="none" stroke-width="0" />
<rect x="1362.60" y="247.25" width="28.10" height="30.85" fill="#00a2d6" stroke="none" stroke-width="0" />
<rect x="1390.70" y="247.25" width="28.10" height="30.85" fill="#00a2d6" stroke="none" stroke-width="0" />
<rect x="1418.80" y="247.25" width="28.10" height="30.85" fill="#00a2d6" stroke="none" stroke-width="0" />
<rect x="1446.90" y="247.25" width="28.10" height="30.85" fill="#00a2d6" stroke="none" stroke-width="0" />
<rect x="1306.40" y="278.10" width="28.10" height="30.85" fill="#00a651" stroke="none" stroke-width="0" />
<rect x="1334.50" y="278.10" width="28.10" height="30.85" fill="#00a651" stroke="none" stroke-width="0" />
<rect x="1362.60" y="278.10" width="28.10" height="30.85" fill="#d9d9d9" stroke="none" stroke-width="0" />
<rect x="1390.70" y="278.10" width="28.10" height="30.85" fill="#00a651" stroke="none" stroke-width="0" />
<rect x="1418.80" y="278.10" width="28.10" height="30.85" fill="#00a651" stroke="none" stroke-width="0" />
<rect x="1446.90" y="278.10" width="28.10" height="30.85" fill="#d9d9d9" stroke="none" stroke-width="0" />
<rect x="1306.40" y="308.95" width="28.10" height="30.85" fill="#de2a1c" stroke="none" stroke-width="0" />
<rect x="1334.50" y="308.95" width="28.10" height="30.85" fill="#de2a1c" stroke="none" stroke-width="0" />
<rect x="1362.60" y="308.95" width="28.10" height="30.85" fill="#d9d9d9" stroke="none" stroke-width="0" />
<rect x="1390.70" y="308.95" width="28.10" height="30.85" fill="#de2a1c" stroke="none" stroke-width="0" />
<rect x="1418.80" y="308.95" width="28.10" height="30.85" fill="#de2a1c" stroke="none" stroke-width="0" />
<rect x="1446.90" y="308.95" width="28.10" height="30.85" fill="#d9d9d9" stroke="none" stroke-width="0" />
<line x1="1306.40" y1="216.40" x2="1475.00" y2="216.40" stroke="#111" stroke-width="2" />
<line x1="1306.40" y1="247.25" x2="1475.00" y2="247.25" stroke="#111" stroke-width="1.6" />
<line x1="1306.40" y1="278.10" x2="1475.00" y2="278.10" stroke="#111" stroke-width="1.6" />
<line x1="1306.40" y1="308.95" x2="1475.00" y2="308.95" stroke="#111" stroke-width="1.6" />
<line x1="1306.40" y1="339.80" x2="1475.00" y2="339.80" stroke="#111" stroke-width="2" />
<line x1="1306.40" y1="216.40" x2="1306.40" y2="339.80" stroke="#111" stroke-width="2" />
<line x1="1334.50" y1="216.40" x2="1334.50" y2="339.80" stroke="#111" stroke-width="1.6" />
<line x1="1362.60" y1="216.40" x2="1362.60" y2="339.80" stroke="#111" stroke-width="1.6" />
<line x1="1390.70" y1="216.40" x2="1390.70" y2="339.80" stroke="#111" stroke-width="1.6" />
<line x1="1418.80" y1="216.40" x2="1418.80" y2="339.80" stroke="#111" stroke-width="1.6" />
<line x1="1446.90" y1="216.40" x2="1446.90" y2="339.80" stroke="#111" stroke-width="1.6" />
<line x1="1475.00" y1="216.40" x2="1475.00" y2="339.80" stroke="#111" stroke-width="2" />
<text transform="translate(1320.45,240.70) scale(1.000,1.080)" font-size="21.5" text-anchor="middle" fill="#0a0a0a" font-weight="bold" >N</text>
<text transform="translate(1348.55,240.70) scale(1.000,1.080)" font-size="21.5" text-anchor="middle" fill="#0a0a0a" font-weight="bold" >D</text>
<text transform="translate(1376.65,240.70) scale(1.000,1.080)" font-size="21.5" text-anchor="middle" fill="#0a0a0a" font-weight="bold" >N</text>
<text transform="translate(1404.75,240.70) scale(1.000,1.080)" font-size="21.5" text-anchor="middle" fill="#0a0a0a" font-weight="bold" >Q</text>
<text transform="translate(1432.85,240.70) scale(1.000,1.080)" font-size="21.5" text-anchor="middle" fill="#0a0a0a" font-weight="bold" >N</text>
<text transform="translate(1460.95,240.70) scale(1.000,1.080)" font-size="21.5" text-anchor="middle" fill="#0a0a0a" font-weight="bold" >L</text>
<text transform="translate(1320.45,271.55) scale(1.000,1.080)" font-size="21.5" text-anchor="middle" fill="#0a0a0a" font-weight="bold" >K</text>
<text transform="translate(1348.55,271.55) scale(1.000,1.080)" font-size="21.5" text-anchor="middle" fill="#0a0a0a" font-weight="bold" >Y</text>
<text transform="translate(1376.65,271.55) scale(1.000,1.080)" font-size="21.5" text-anchor="middle" fill="#0a0a0a" font-weight="bold" >K</text>
<text transform="translate(1404.75,271.55) scale(1.000,1.080)" font-size="21.5" text-anchor="middle" fill="#0a0a0a" font-weight="bold" >H</text>
<text transform="translate(1432.85,271.55) scale(1.000,1.080)" font-size="21.5" text-anchor="middle" fill="#0a0a0a" font-weight="bold" >K</text>
<text transform="translate(1460.95,271.55) scale(1.000,1.080)" font-size="21.5" text-anchor="middle" fill="#0a0a0a" font-weight="bold" >F</text>
<text transform="translate(1320.45,302.40) scale(1.000,1.080)" font-size="21.5" text-anchor="middle" fill="#0a0a0a" font-weight="bold" >K</text>
<text transform="translate(1348.55,302.40) scale(1.000,1.080)" font-size="26" text-anchor="middle" fill="#0a0a0a" font-weight="bold" >Y</text>
<text transform="translate(1404.75,302.40) scale(1.000,1.080)" font-size="21.5" text-anchor="middle" fill="#0a0a0a" font-weight="bold" >H</text>
<text transform="translate(1432.85,302.40) scale(1.000,1.080)" font-size="21.5" text-anchor="middle" fill="#0a0a0a" font-weight="bold" >K</text>
<text transform="translate(1320.45,333.25) scale(1.000,1.080)" font-size="21.5" text-anchor="middle" fill="#0a0a0a" font-weight="bold" >K</text>
<text transform="translate(1348.55,333.25) scale(1.000,1.080)" font-size="21.5" text-anchor="middle" fill="#0a0a0a" font-weight="bold" >Y</text>
<text transform="translate(1404.75,333.25) scale(1.000,1.080)" font-size="21.5" text-anchor="middle" fill="#0a0a0a" font-weight="bold" >H</text>
<text transform="translate(1432.85,333.25) scale(1.000,1.080)" font-size="21.5" text-anchor="middle" fill="#0a0a0a" font-weight="bold" >K</text>
<text transform="translate(1310.70,353.70) scale(1,1.12) rotate(55)" font-size="21.5" font-weight="bold" fill="#111">N764K</text>
<text transform="translate(1338.80,353.70) scale(1,1.12) rotate(55)" font-size="21.5" font-weight="bold" fill="#111">D796Y</text>
<text transform="translate(1366.90,353.70) scale(1,1.12) rotate(55)" font-size="21.5" font-weight="bold" fill="#111">N856K</text>
<text transform="translate(1395.00,353.70) scale(1,1.12) rotate(55)" font-size="21.5" font-weight="bold" fill="#111">Q954H</text>
<text transform="translate(1423.10,353.70) scale(1,1.12) rotate(55)" font-size="21.5" font-weight="bold" fill="#111">N969K</text>
<text transform="translate(1451.20,353.70) scale(1,1.12) rotate(55)" font-size="21.5" font-weight="bold" fill="#111">L981F</text>
<text transform="translate(412.30,207.60) scale(1.000,1.020)" font-size="29.5" text-anchor="middle" fill="#0a0a0a" font-weight="bold" >NTD</text>
<text transform="translate(927.60,207.30) scale(1.000,1.020)" font-size="29.5" text-anchor="middle" fill="#0a0a0a" font-weight="bold" >RBD</text>
<text transform="translate(1351.40,207.60) scale(1.000,1.020)" font-size="29.5" text-anchor="middle" fill="#0a0a0a" font-weight="bold" >S2</text>
<line x1="1142.50" y1="210.00" x2="1142.50" y2="217.00" stroke="#111" stroke-width="1.5" />
<text transform="translate(59.50,213.00) scale(1.080,1.080)" font-size="24.7" text-anchor="middle" fill="#0a0a0a" font-weight="bold" >USA-</text>
<text transform="translate(59.00,245.00) scale(1.050,1.080)" font-size="25.2" text-anchor="middle" fill="#0a0a0a" font-weight="bold" >WA1/2020</text>
<text transform="translate(58.50,273.70) scale(1.060,1.080)" font-size="24.7" text-anchor="middle" fill="#0a0a0a" font-weight="bold" >BA.1</text>
<text transform="translate(58.50,304.60) scale(1.060,1.080)" font-size="24.7" text-anchor="middle" fill="#0a0a0a" font-weight="bold" >BA.2</text>
<text transform="translate(58.50,335.40) scale(1.060,1.080)" font-size="24.7" text-anchor="middle" fill="#0a0a0a" font-weight="bold" >BA.3</text>
<text transform="translate(2.20,486.60) scale(1.050,1.000)" font-size="39.4" text-anchor="start" fill="#0a0a0a" font-weight="bold" >B</text>
<text transform="translate(453.20,502.60) scale(1.042,1.000)" font-size="32" text-anchor="middle" fill="#0a0a0a" font-weight="bold" >Naive subjects infected with BA.1 (n=20)</text>
<text transform="translate(230.50,544.60) scale(1.070,1.000)" font-size="32" text-anchor="middle" fill="#0a0a0a" font-weight="bold" >16</text>
<text transform="translate(377.70,544.60) scale(1.070,1.000)" font-size="32" text-anchor="middle" fill="#0a0a0a" font-weight="bold" >445</text>
<text transform="translate(532.00,544.60) scale(1.070,1.000)" font-size="32" text-anchor="middle" fill="#0a0a0a" font-weight="bold" >107</text>
<text transform="translate(682.80,544.60) scale(1.070,1.000)" font-size="32" text-anchor="middle" fill="#0a0a0a" font-weight="bold" >102</text>
<line x1="129.80" y1="537.00" x2="129.80" y2="1111.30" stroke="#111" stroke-width="2.6" />
<line x1="117.60" y1="541.30" x2="129.80" y2="541.30" stroke="#111" stroke-width="2.5" />
<text transform="translate(111.00,554.10) scale(1.060,1.000)" font-size="32" text-anchor="end" fill="#0a0a0a" font-weight="bold" >20480</text>
<line x1="117.60" y1="588.50" x2="129.80" y2="588.50" stroke="#111" stroke-width="2.5" />
<text transform="translate(111.00,601.30) scale(1.060,1.000)" font-size="32" text-anchor="end" fill="#0a0a0a" font-weight="bold" >10240</text>
<line x1="117.60" y1="635.70" x2="129.80" y2="635.70" stroke="#111" stroke-width="2.5" />
<text transform="translate(111.00,648.50) scale(1.060,1.000)" font-size="32" text-anchor="end" fill="#0a0a0a" font-weight="bold" >5120</text>
<line x1="117.60" y1="682.90" x2="129.80" y2="682.90" stroke="#111" stroke-width="2.5" />
<text transform="translate(111.00,695.70) scale(1.060,1.000)" font-size="32" text-anchor="end" fill="#0a0a0a" font-weight="bold" >2560</text>
<line x1="117.60" y1="730.10" x2="129.80" y2="730.10" stroke="#111" stroke-width="2.5" />
<text transform="translate(111.00,742.90) scale(1.060,1.000)" font-size="32" text-anchor="end" fill="#0a0a0a" font-weight="bold" >1280</text>
<line x1="117.60" y1="777.30" x2="129.80" y2="777.30" stroke="#111" stroke-width="2.5" />
<text transform="translate(111.00,790.10) scale(1.060,1.000)" font-size="32" text-anchor="end" fill="#0a0a0a" font-weight="bold" >640</text>
<line x1="117.60" y1="824.50" x2="129.80" y2="824.50" stroke="#111" stroke-width="2.5" />
<text transform="translate(111.00,837.30) scale(1.060,1.000)" font-size="32" text-anchor="end" fill="#0a0a0a" font-weight="bold" >320</text>
<line x1="117.60" y1="871.70" x2="129.80" y2="871.70" stroke="#111" stroke-width="2.5" />
<text transform="translate(111.00,884.50) scale(1.060,1.000)" font-size="32" text-anchor="end" fill="#0a0a0a" font-weight="bold" >160</text>
<line x1="117.60" y1="918.90" x2="129.80" y2="918.90" stroke="#111" stroke-width="2.5" />
<text transform="translate(111.00,931.70) scale(1.060,1.000)" font-size="32" text-anchor="end" fill="#0a0a0a" font-weight="bold" >80</text>
<line x1="117.60" y1="966.10" x2="129.80" y2="966.10" stroke="#111" stroke-width="2.5" />
<text transform="translate(111.00,978.90) scale(1.060,1.000)" font-size="32" text-anchor="end" fill="#0a0a0a" font-weight="bold" >40</text>
<line x1="117.60" y1="1013.30" x2="129.80" y2="1013.30" stroke="#111" stroke-width="2.5" />
<text transform="translate(111.00,1026.10) scale(1.060,1.000)" font-size="32" text-anchor="end" fill="#0a0a0a" font-weight="bold" >20</text>
<line x1="117.60" y1="1060.50" x2="129.80" y2="1060.50" stroke="#111" stroke-width="2.5" />
<text transform="translate(111.00,1073.30) scale(1.060,1.000)" font-size="32" text-anchor="end" fill="#0a0a0a" font-weight="bold" >10</text>
<line x1="126.30" y1="1107.50" x2="759.40" y2="1107.50" stroke="#111" stroke-width="2.4" stroke-linecap="round"/>
<rect x="172.40" y="1031.00" width="111.70" height="76.10" fill="#ffffff" stroke="#1a1a1a" stroke-width="1.8" />
<rect x="323.60" y="804.40" width="111.00" height="302.70" fill="#e3f1fb" stroke="#1a1a1a" stroke-width="1.8" />
<rect x="474.60" y="901.50" width="111.20" height="205.60" fill="#e8f8e8" stroke="#1a1a1a" stroke-width="1.8" />
<rect x="625.40" y="905.00" width="111.10" height="202.10" fill="#fde8ec" stroke="#1a1a1a" stroke-width="1.8" />
<line x1="228.30" y1="1107.00" x2="228.30" y2="1118.30" stroke="#111" stroke-width="2.5" />
<line x1="379.40" y1="1107.00" x2="379.40" y2="1118.30" stroke="#111" stroke-width="2.5" />
<line x1="530.00" y1="1107.00" x2="530.00" y2="1118.30" stroke="#111" stroke-width="2.5" />
<line x1="680.80" y1="1107.00" x2="680.80" y2="1118.30" stroke="#111" stroke-width="2.5" />
<circle cx="179.50" cy="1060.50" r="9.4" fill="#d9d9d9" stroke="#1a1a1a" stroke-width="1"/>
<circle cx="195.80" cy="1060.50" r="9.4" fill="#d9d9d9" stroke="#1a1a1a" stroke-width="1"/>
<circle cx="212.10" cy="1060.50" r="9.4" fill="#d9d9d9" stroke="#1a1a1a" stroke-width="1"/>
<circle cx="228.20" cy="1060.50" r="9.4" fill="#d9d9d9" stroke="#1a1a1a" stroke-width="1"/>
<circle cx="236.00" cy="1060.50" r="9.4" fill="#d9d9d9" stroke="#1a1a1a" stroke-width="1"/>
<circle cx="252.30" cy="1060.50" r="9.4" fill="#d9d9d9" stroke="#1a1a1a" stroke-width="1"/>
<circle cx="268.60" cy="1060.50" r="9.4" fill="#d9d9d9" stroke="#1a1a1a" stroke-width="1"/>
<circle cx="187.70" cy="1060.50" r="9.4" fill="#d9d9d9" stroke="#1a1a1a" stroke-width="1"/>
<circle cx="204.00" cy="1060.50" r="9.4" fill="#d9d9d9" stroke="#1a1a1a" stroke-width="1"/>
<circle cx="220.30" cy="1060.50" r="9.4" fill="#d9d9d9" stroke="#1a1a1a" stroke-width="1"/>
<circle cx="244.20" cy="1060.50" r="9.4" fill="#d9d9d9" stroke="#1a1a1a" stroke-width="1"/>
<circle cx="260.50" cy="1060.50" r="9.4" fill="#d9d9d9" stroke="#1a1a1a" stroke-width="1"/>
<circle cx="276.80" cy="1060.50" r="9.4" fill="#d9d9d9" stroke="#1a1a1a" stroke-width="1"/>
<circle cx="228.10" cy="1036.90" r="9.4" fill="#d9d9d9" stroke="#1a1a1a" stroke-width="1"/>
<circle cx="232.20" cy="1013.30" r="9.4" fill="#d9d9d9" stroke="#1a1a1a" stroke-width="1"/>
<circle cx="224.10" cy="1013.30" r="9.4" fill="#d9d9d9" stroke="#1a1a1a" stroke-width="1"/>
<circle cx="228.10" cy="989.70" r="9.4" fill="#d9d9d9" stroke="#1a1a1a" stroke-width="1"/>
<circle cx="228.10" cy="966.10" r="9.4" fill="#d9d9d9" stroke="#1a1a1a" stroke-width="1"/>
<circle cx="228.10" cy="895.30" r="9.4" fill="#d9d9d9" stroke="#1a1a1a" stroke-width="1"/>
<circle cx="228.10" cy="871.70" r="9.4" fill="#d9d9d9" stroke="#1a1a1a" stroke-width="1"/>
<circle cx="378.80" cy="564.90" r="9.4" fill="#00a2d3" stroke="#1a1a1a" stroke-width="1"/>
<circle cx="378.80" cy="635.70" r="9.4" fill="#00a2d3" stroke="#1a1a1a" stroke-width="1"/>
<circle cx="362.75" cy="682.90" r="9.4" fill="#00a2d3" stroke="#1a1a1a" stroke-width="1"/>
<circle cx="394.85" cy="682.90" r="9.4" fill="#00a2d3" stroke="#1a1a1a" stroke-width="1"/>
<circle cx="378.80" cy="730.10" r="9.4" fill="#00a2d3" stroke="#1a1a1a" stroke-width="1"/>
<circle cx="378.80" cy="753.70" r="9.4" fill="#00a2d3" stroke="#1a1a1a" stroke-width="1"/>
<circle cx="378.80" cy="777.30" r="9.4" fill="#00a2d3" stroke="#1a1a1a" stroke-width="1"/>
<circle cx="362.75" cy="800.90" r="9.4" fill="#00a2d3" stroke="#1a1a1a" stroke-width="1"/>
<circle cx="394.85" cy="800.90" r="9.4" fill="#00a2d3" stroke="#1a1a1a" stroke-width="1"/>
<circle cx="362.75" cy="824.50" r="9.4" fill="#00a2d3" stroke="#1a1a1a" stroke-width="1"/>
<circle cx="394.85" cy="824.50" r="9.4" fill="#00a2d3" stroke="#1a1a1a" stroke-width="1"/>
<circle cx="378.80" cy="848.10" r="9.4" fill="#00a2d3" stroke="#1a1a1a" stroke-width="1"/>
<circle cx="330.65" cy="871.70" r="9.4" fill="#00a2d3" stroke="#1a1a1a" stroke-width="1"/>
<circle cx="362.75" cy="871.70" r="9.4" fill="#00a2d3" stroke="#1a1a1a" stroke-width="1"/>
<circle cx="394.85" cy="871.70" r="9.4" fill="#00a2d3" stroke="#1a1a1a" stroke-width="1"/>
<circle cx="426.95" cy="871.70" r="9.4" fill="#00a2d3" stroke="#1a1a1a" stroke-width="1"/>
<circle cx="362.75" cy="895.30" r="9.4" fill="#00a2d3" stroke="#1a1a1a" stroke-width="1"/>
<circle cx="394.85" cy="895.30" r="9.4" fill="#00a2d3" stroke="#1a1a1a" stroke-width="1"/>
<circle cx="362.75" cy="918.90" r="9.4" fill="#00a2d3" stroke="#1a1a1a" stroke-width="1"/>
<circle cx="394.85" cy="918.90" r="9.4" fill="#00a2d3" stroke="#1a1a1a" stroke-width="1"/>
<circle cx="530.00" cy="682.90" r="9.4" fill="#00a551" stroke="#1a1a1a" stroke-width="1"/>
<circle cx="530.00" cy="730.10" r="9.4" fill="#00a551" stroke="#1a1a1a" stroke-width="1"/>
<circle cx="530.00" cy="777.30" r="9.4" fill="#00a551" stroke="#1a1a1a" stroke-width="1"/>
<circle cx="510.75" cy="800.90" r="9.4" fill="#00a551" stroke="#1a1a1a" stroke-width="1"/>
<circle cx="549.25" cy="800.90" r="9.4" fill="#00a551" stroke="#1a1a1a" stroke-width="1"/>
<circle cx="530.00" cy="848.10" r="9.4" fill="#00a551" stroke="#1a1a1a" stroke-width="1"/>
<circle cx="510.75" cy="871.70" r="9.4" fill="#00a551" stroke="#1a1a1a" stroke-width="1"/>
<circle cx="549.25" cy="871.70" r="9.4" fill="#00a551" stroke="#1a1a1a" stroke-width="1"/>
<circle cx="510.75" cy="895.30" r="9.4" fill="#00a551" stroke="#1a1a1a" stroke-width="1"/>
<circle cx="549.25" cy="895.30" r="9.4" fill="#00a551" stroke="#1a1a1a" stroke-width="1"/>
<circle cx="530.00" cy="918.90" r="9.4" fill="#00a551" stroke="#1a1a1a" stroke-width="1"/>
<circle cx="530.00" cy="942.50" r="9.4" fill="#00a551" stroke="#1a1a1a" stroke-width="1"/>
<circle cx="491.50" cy="966.10" r="9.4" fill="#00a551" stroke="#1a1a1a" stroke-width="1"/>
<circle cx="530.00" cy="966.10" r="9.4" fill="#00a551" stroke="#1a1a1a" stroke-width="1"/>
<circle cx="568.50" cy="966.10" r="9.4" fill="#00a551" stroke="#1a1a1a" stroke-width="1"/>
<circle cx="491.50" cy="989.70" r="9.4" fill="#00a551" stroke="#1a1a1a" stroke-width="1"/>
<circle cx="530.00" cy="989.70" r="9.4" fill="#00a551" stroke="#1a1a1a" stroke-width="1"/>
<circle cx="568.50" cy="989.70" r="9.4" fill="#00a551" stroke="#1a1a1a" stroke-width="1"/>
<circle cx="530.00" cy="1013.30" r="9.4" fill="#00a551" stroke="#1a1a1a" stroke-width="1"/>
<circle cx="530.00" cy="1060.50" r="9.4" fill="#00a551" stroke="#1a1a1a" stroke-width="1"/>
<circle cx="680.80" cy="682.90" r="9.4" fill="#de2b1c" stroke="#1a1a1a" stroke-width="1"/>
<circle cx="680.80" cy="706.50" r="9.4" fill="#de2b1c" stroke="#1a1a1a" stroke-width="1"/>
<circle cx="680.80" cy="730.10" r="9.4" fill="#de2b1c" stroke="#1a1a1a" stroke-width="1"/>
<circle cx="680.80" cy="777.30" r="9.4" fill="#de2b1c" stroke="#1a1a1a" stroke-width="1"/>
<circle cx="680.80" cy="824.50" r="9.4" fill="#de2b1c" stroke="#1a1a1a" stroke-width="1"/>
<circle cx="680.80" cy="848.10" r="9.4" fill="#de2b1c" stroke="#1a1a1a" stroke-width="1"/>
<circle cx="664.65" cy="871.70" r="9.4" fill="#de2b1c" stroke="#1a1a1a" stroke-width="1"/>
<circle cx="696.95" cy="871.70" r="9.4" fill="#de2b1c" stroke="#1a1a1a" stroke-width="1"/>
<circle cx="680.80" cy="895.30" r="9.4" fill="#de2b1c" stroke="#1a1a1a" stroke-width="1"/>
<circle cx="680.80" cy="918.90" r="9.4" fill="#de2b1c" stroke="#1a1a1a" stroke-width="1"/>
<circle cx="680.80" cy="942.50" r="9.4" fill="#de2b1c" stroke="#1a1a1a" stroke-width="1"/>
<circle cx="648.50" cy="966.10" r="9.4" fill="#de2b1c" stroke="#1a1a1a" stroke-width="1"/>
<circle cx="680.80" cy="966.10" r="9.4" fill="#de2b1c" stroke="#1a1a1a" stroke-width="1"/>
<circle cx="713.10" cy="966.10" r="9.4" fill="#de2b1c" stroke="#1a1a1a" stroke-width="1"/>
<circle cx="680.80" cy="989.70" r="9.4" fill="#de2b1c" stroke="#1a1a1a" stroke-width="1"/>
<circle cx="632.35" cy="1013.30" r="9.4" fill="#de2b1c" stroke="#1a1a1a" stroke-width="1"/>
<circle cx="664.65" cy="1013.30" r="9.4" fill="#de2b1c" stroke="#1a1a1a" stroke-width="1"/>
<circle cx="696.95" cy="1013.30" r="9.4" fill="#de2b1c" stroke="#1a1a1a" stroke-width="1"/>
<circle cx="729.25" cy="1013.30" r="9.4" fill="#de2b1c" stroke="#1a1a1a" stroke-width="1"/>
<circle cx="680.80" cy="1036.90" r="9.4" fill="#de2b1c" stroke="#1a1a1a" stroke-width="1"/>
<g stroke="#111" stroke-width="3.2" stroke-linecap="round"><line x1="228.3" y1="1002.5" x2="228.3" y2="1055.4"/><line x1="198.70000000000002" y1="1002.5" x2="257.90000000000003" y2="1002.5"/><line x1="198.70000000000002" y1="1055.4" x2="257.90000000000003" y2="1055.4"/></g>
<g stroke="#111" stroke-width="3.2" stroke-linecap="round"><line x1="378.8" y1="755.9" x2="378.8" y2="848"/><line x1="350.1" y1="755.9" x2="407.5" y2="755.9"/><line x1="350.1" y1="848" x2="407.5" y2="848"/></g>
<g stroke="#111" stroke-width="3.2" stroke-linecap="round"><line x1="530" y1="851.5" x2="530" y2="946.5"/><line x1="500.2" y1="851.5" x2="559.8" y2="851.5"/><line x1="500.2" y1="946.5" x2="559.8" y2="946.5"/></g>
<g stroke="#111" stroke-width="3.2" stroke-linecap="round"><line x1="680.8" y1="851.2" x2="680.8" y2="954.2"/><line x1="650.6999999999999" y1="851.2" x2="710.9" y2="851.2"/><line x1="650.6999999999999" y1="954.2" x2="710.9" y2="954.2"/></g>
<text transform="translate(229.00,1148.80) scale(1.030,1.000)" font-size="32" text-anchor="middle" fill="#0a0a0a" font-weight="bold" >USA-</text>
<text transform="translate(229.00,1189.00) scale(1.060,1.000)" font-size="32" text-anchor="middle" fill="#0a0a0a" font-weight="bold" >WA1/2020</text>
<text transform="translate(340.90,1148.80) scale(1.055,1.000)" font-size="32" text-anchor="start" fill="#0a0a0a" font-weight="bold" >BA.1-</text>
<text transform="translate(340.90,1189.00) scale(1.045,1.000)" font-size="32" text-anchor="start" fill="#0a0a0a" font-weight="bold" >spike</text>
<text transform="translate(490.50,1148.80) scale(1.055,1.000)" font-size="32" text-anchor="start" fill="#0a0a0a" font-weight="bold" >BA.2-</text>
<text transform="translate(490.50,1189.00) scale(1.045,1.000)" font-size="32" text-anchor="start" fill="#0a0a0a" font-weight="bold" >spike</text>
<text transform="translate(640.50,1148.80) scale(1.055,1.000)" font-size="32" text-anchor="start" fill="#0a0a0a" font-weight="bold" >BA.3-</text>
<text transform="translate(640.50,1189.00) scale(1.045,1.000)" font-size="32" text-anchor="start" fill="#0a0a0a" font-weight="bold" >spike</text>
<text transform="translate(28,900.2) rotate(-90) scale(1.035,1)" font-size="32" font-weight="bold" fill="#111">FFRNT<tspan font-size="20" dy="10">50</tspan><tspan dy="-10"> (log</tspan><tspan font-size="20" dy="9">2</tspan><tspan dy="-9">)</tspan></text>
<text transform="translate(774.50,487.00) scale(1.100,1.000)" font-size="40" text-anchor="start" fill="#0a0a0a" font-weight="bold" >C</text>
<line x1="907.70" y1="538.00" x2="907.70" y2="1111.30" stroke="#111" stroke-width="2.6" />
<line x1="895.50" y1="541.30" x2="907.70" y2="541.30" stroke="#111" stroke-width="2.5" />
<text transform="translate(891.30,554.10) scale(1.060,1.000)" font-size="32" text-anchor="end" fill="#0a0a0a" font-weight="bold" >20480</text>
<line x1="895.50" y1="588.50" x2="907.70" y2="588.50" stroke="#111" stroke-width="2.5" />
<text transform="translate(891.30,601.30) scale(1.060,1.000)" font-size="32" text-anchor="end" fill="#0a0a0a" font-weight="bold" >10240</text>
<line x1="895.50" y1="635.70" x2="907.70" y2="635.70" stroke="#111" stroke-width="2.5" />
<text transform="translate(891.30,648.50) scale(1.060,1.000)" font-size="32" text-anchor="end" fill="#0a0a0a" font-weight="bold" >5120</text>
<line x1="895.50" y1="682.90" x2="907.70" y2="682.90" stroke="#111" stroke-width="2.5" />
<text transform="translate(891.30,695.70) scale(1.060,1.000)" font-size="32" text-anchor="end" fill="#0a0a0a" font-weight="bold" >2560</text>
<line x1="895.50" y1="730.10" x2="907.70" y2="730.10" stroke="#111" stroke-width="2.5" />
<text transform="translate(891.30,742.90) scale(1.060,1.000)" font-size="32" text-anchor="end" fill="#0a0a0a" font-weight="bold" >1280</text>
<line x1="895.50" y1="777.30" x2="907.70" y2="777.30" stroke="#111" stroke-width="2.5" />
<text transform="translate(891.30,790.10) scale(1.060,1.000)" font-size="32" text-anchor="end" fill="#0a0a0a" font-weight="bold" >640</text>
<line x1="895.50" y1="824.50" x2="907.70" y2="824.50" stroke="#111" stroke-width="2.5" />
<text transform="translate(891.30,837.30) scale(1.060,1.000)" font-size="32" text-anchor="end" fill="#0a0a0a" font-weight="bold" >320</text>
<line x1="895.50" y1="871.70" x2="907.70" y2="871.70" stroke="#111" stroke-width="2.5" />
<text transform="translate(891.30,884.50) scale(1.060,1.000)" font-size="32" text-anchor="end" fill="#0a0a0a" font-weight="bold" >160</text>
<line x1="895.50" y1="918.90" x2="907.70" y2="918.90" stroke="#111" stroke-width="2.5" />
<text transform="translate(891.30,931.70) scale(1.060,1.000)" font-size="32" text-anchor="end" fill="#0a0a0a" font-weight="bold" >80</text>
<line x1="895.50" y1="966.10" x2="907.70" y2="966.10" stroke="#111" stroke-width="2.5" />
<text transform="translate(891.30,978.90) scale(1.060,1.000)" font-size="32" text-anchor="end" fill="#0a0a0a" font-weight="bold" >40</text>
<line x1="895.50" y1="1013.30" x2="907.70" y2="1013.30" stroke="#111" stroke-width="2.5" />
<text transform="translate(891.30,1026.10) scale(1.060,1.000)" font-size="32" text-anchor="end" fill="#0a0a0a" font-weight="bold" >20</text>
<line x1="895.50" y1="1060.50" x2="907.70" y2="1060.50" stroke="#111" stroke-width="2.5" />
<text transform="translate(891.30,1073.30) scale(1.060,1.000)" font-size="32" text-anchor="end" fill="#0a0a0a" font-weight="bold" >10</text>
<line x1="904.20" y1="1107.80" x2="1477.70" y2="1107.80" stroke="#111" stroke-width="2.5" />
<line x1="994.60" y1="1107.00" x2="994.60" y2="1119.00" stroke="#111" stroke-width="2.5" />
<line x1="1126.00" y1="1107.00" x2="1126.00" y2="1119.00" stroke="#111" stroke-width="2.5" />
<line x1="1255.90" y1="1107.00" x2="1255.90" y2="1119.00" stroke="#111" stroke-width="2.5" />
<line x1="1387.00" y1="1107.00" x2="1387.00" y2="1119.00" stroke="#111" stroke-width="2.5" />
<text transform="translate(810.2,899.9) rotate(-90) scale(1.035,1)" font-size="32" font-weight="bold" fill="#111">FFRNT<tspan font-size="20" dy="10">50</tspan><tspan dy="-10"> (log</tspan><tspan font-size="20" dy="9">2</tspan><tspan dy="-9">)</tspan></text>
<text transform="translate(978.40,1146.30) scale(1.030,1.000)" font-size="32" text-anchor="middle" fill="#0a0a0a" font-weight="bold" >USA-</text>
<text transform="translate(978.40,1186.30) scale(1.060,1.000)" font-size="32" text-anchor="middle" fill="#0a0a0a" font-weight="bold" >WA1/2020</text>
<text transform="translate(1083.60,1146.30) scale(1.055,1.000)" font-size="32" text-anchor="start" fill="#0a0a0a" font-weight="bold" >BA.1-</text>
<text transform="translate(1083.60,1186.30) scale(1.045,1.000)" font-size="32" text-anchor="start" fill="#0a0a0a" font-weight="bold" >spike</text>
<text transform="translate(1215.90,1146.30) scale(1.055,1.000)" font-size="32" text-anchor="start" fill="#0a0a0a" font-weight="bold" >BA.2-</text>
<text transform="translate(1215.90,1186.30) scale(1.045,1.000)" font-size="32" text-anchor="start" fill="#0a0a0a" font-weight="bold" >spike</text>
<text transform="translate(1344.50,1146.30) scale(1.055,1.000)" font-size="32" text-anchor="start" fill="#0a0a0a" font-weight="bold" >BA.3-</text>
<text transform="translate(1344.50,1186.30) scale(1.045,1.000)" font-size="32" text-anchor="start" fill="#0a0a0a" font-weight="bold" >spike</text>
<g stroke="#1a1a1a" stroke-width="1" fill="none">
<polyline points="995.1,966.1 1125.2,564.9 1255.7,682.9 1386.8,682.9"/>
<polyline points="995.1,1060.5 1125.2,635.7 1255.7,777.3 1386.8,730.1"/>
<polyline points="995.1,895.3 1125.2,682.9 1255.7,730.1 1386.8,706.5"/>
<polyline points="995.1,989.7 1125.2,682.9 1255.7,800.9 1386.8,777.3"/>
<polyline points="995.1,1060.5 1125.2,730.1 1255.7,848.1 1386.8,824.5"/>
<polyline points="995.1,1060.5 1125.2,753.7 1255.7,989.7 1386.8,989.7"/>
<polyline points="995.1,1013.3 1125.2,777.3 1255.7,800.9 1386.8,871.7"/>
<polyline points="995.1,871.7 1125.2,800.9 1255.7,1060.5 1386.8,1013.3"/>
<polyline points="995.1,1060.5 1125.2,800.9 1255.7,966.1 1386.8,966.1"/>
<polyline points="995.1,1036.9 1125.2,824.5 1255.7,895.3 1386.8,871.7"/>
<polyline points="995.1,1060.5 1125.2,824.5 1255.7,942.5 1386.8,942.5"/>
<polyline points="995.1,1013.3 1125.2,848.1 1255.7,871.7 1386.8,848.1"/>
<polyline points="995.1,1060.5 1125.2,871.7 1255.7,918.9 1386.8,1013.3"/>
<polyline points="995.1,1060.5 1125.2,871.7 1255.7,966.1 1386.8,895.3"/>
<polyline points="995.1,1060.5 1125.2,871.7 1255.7,989.7 1386.8,918.9"/>
<polyline points="995.1,1060.5 1125.2,871.7 1255.7,1013.3 1386.8,1013.3"/>
<polyline points="995.1,1060.5 1125.2,895.3 1255.7,966.1 1386.8,1036.9"/>
<polyline points="995.1,1060.5 1125.2,895.3 1255.7,989.7 1386.8,966.1"/>
<polyline points="995.1,1060.5 1125.2,918.9 1255.7,871.7 1386.8,1013.3"/>
<polyline points="995.1,1060.5 1125.2,918.9 1255.7,895.3 1386.8,966.1"/>
</g>
<circle cx="995.10" cy="1060.50" r="9.4" fill="#d9d9d9" stroke="#1a1a1a" stroke-width="1"/>
<use href="#ast" x="995.90" y="1060.30"/>
<circle cx="995.10" cy="1036.90" r="9.4" fill="#d9d9d9" stroke="#1a1a1a" stroke-width="1"/>
<circle cx="995.10" cy="1013.30" r="9.4" fill="#d9d9d9" stroke="#1a1a1a" stroke-width="1"/>
<circle cx="995.10" cy="989.70" r="9.4" fill="#d9d9d9" stroke="#1a1a1a" stroke-width="1"/>
<circle cx="995.10" cy="966.10" r="9.4" fill="#d9d9d9" stroke="#1a1a1a" stroke-width="1"/>
<circle cx="995.10" cy="895.30" r="9.4" fill="#d9d9d9" stroke="#1a1a1a" stroke-width="1"/>
<circle cx="995.10" cy="871.70" r="9.4" fill="#d9d9d9" stroke="#1a1a1a" stroke-width="1"/>
<circle cx="1125.20" cy="918.90" r="9.4" fill="#00a2d3" stroke="#1a1a1a" stroke-width="1"/>
<use href="#ast" x="1126.00" y="918.70"/>
<circle cx="1125.20" cy="895.30" r="9.4" fill="#00a2d3" stroke="#1a1a1a" stroke-width="1"/>
<circle cx="1125.20" cy="871.70" r="9.4" fill="#00a2d3" stroke="#1a1a1a" stroke-width="1"/>
<circle cx="1125.20" cy="848.10" r="9.4" fill="#00a2d3" stroke="#1a1a1a" stroke-width="1"/>
<circle cx="1125.20" cy="824.50" r="9.4" fill="#00a2d3" stroke="#1a1a1a" stroke-width="1"/>
<circle cx="1125.20" cy="800.90" r="9.4" fill="#00a2d3" stroke="#1a1a1a" stroke-width="1"/>
<circle cx="1125.20" cy="777.30" r="9.4" fill="#00a2d3" stroke="#1a1a1a" stroke-width="1"/>
<circle cx="1125.20" cy="753.70" r="9.4" fill="#00a2d3" stroke="#1a1a1a" stroke-width="1"/>
<circle cx="1125.20" cy="730.10" r="9.4" fill="#00a2d3" stroke="#1a1a1a" stroke-width="1"/>
<circle cx="1125.20" cy="682.90" r="9.4" fill="#00a2d3" stroke="#1a1a1a" stroke-width="1"/>
<circle cx="1125.20" cy="635.70" r="9.4" fill="#00a2d3" stroke="#1a1a1a" stroke-width="1"/>
<circle cx="1125.20" cy="564.90" r="9.4" fill="#00a2d3" stroke="#1a1a1a" stroke-width="1"/>
<circle cx="1255.70" cy="1060.50" r="9.4" fill="#00a551" stroke="#1a1a1a" stroke-width="1"/>
<circle cx="1255.70" cy="1013.30" r="9.4" fill="#00a551" stroke="#1a1a1a" stroke-width="1"/>
<circle cx="1255.70" cy="989.70" r="9.4" fill="#00a551" stroke="#1a1a1a" stroke-width="1"/>
<circle cx="1255.70" cy="966.10" r="9.4" fill="#00a551" stroke="#1a1a1a" stroke-width="1"/>
<circle cx="1255.70" cy="942.50" r="9.4" fill="#00a551" stroke="#1a1a1a" stroke-width="1"/>
<circle cx="1255.70" cy="918.90" r="9.4" fill="#00a551" stroke="#1a1a1a" stroke-width="1"/>
<circle cx="1255.70" cy="895.30" r="9.4" fill="#00a551" stroke="#1a1a1a" stroke-width="1"/>
<use href="#ast" x="1256.50" y="895.10"/>
<circle cx="1255.70" cy="871.70" r="9.4" fill="#00a551" stroke="#1a1a1a" stroke-width="1"/>
<use href="#ast" x="1256.50" y="871.50"/>
<circle cx="1255.70" cy="848.10" r="9.4" fill="#00a551" stroke="#1a1a1a" stroke-width="1"/>
<circle cx="1255.70" cy="800.90" r="9.4" fill="#00a551" stroke="#1a1a1a" stroke-width="1"/>
<circle cx="1255.70" cy="777.30" r="9.4" fill="#00a551" stroke="#1a1a1a" stroke-width="1"/>
<circle cx="1255.70" cy="730.10" r="9.4" fill="#00a551" stroke="#1a1a1a" stroke-width="1"/>
<circle cx="1255.70" cy="682.90" r="9.4" fill="#00a551" stroke="#1a1a1a" stroke-width="1"/>
<circle cx="1386.80" cy="1036.90" r="9.4" fill="#de2b1c" stroke="#1a1a1a" stroke-width="1"/>
<circle cx="1386.80" cy="1013.30" r="9.4" fill="#de2b1c" stroke="#1a1a1a" stroke-width="1"/>
<use href="#ast" x="1387.60" y="1013.10"/>
<circle cx="1386.80" cy="989.70" r="9.4" fill="#de2b1c" stroke="#1a1a1a" stroke-width="1"/>
<circle cx="1386.80" cy="966.10" r="9.4" fill="#de2b1c" stroke="#1a1a1a" stroke-width="1"/>
<use href="#ast" x="1387.60" y="965.90"/>
<circle cx="1386.80" cy="942.50" r="9.4" fill="#de2b1c" stroke="#1a1a1a" stroke-width="1"/>
<circle cx="1386.80" cy="918.90" r="9.4" fill="#de2b1c" stroke="#1a1a1a" stroke-width="1"/>
<circle cx="1386.80" cy="895.30" r="9.4" fill="#de2b1c" stroke="#1a1a1a" stroke-width="1"/>
<circle cx="1386.80" cy="871.70" r="9.4" fill="#de2b1c" stroke="#1a1a1a" stroke-width="1"/>
<circle cx="1386.80" cy="848.10" r="9.4" fill="#de2b1c" stroke="#1a1a1a" stroke-width="1"/>
<circle cx="1386.80" cy="824.50" r="9.4" fill="#de2b1c" stroke="#1a1a1a" stroke-width="1"/>
<circle cx="1386.80" cy="777.30" r="9.4" fill="#de2b1c" stroke="#1a1a1a" stroke-width="1"/>
<circle cx="1386.80" cy="730.10" r="9.4" fill="#de2b1c" stroke="#1a1a1a" stroke-width="1"/>
<circle cx="1386.80" cy="706.50" r="9.4" fill="#de2b1c" stroke="#1a1a1a" stroke-width="1"/>
<circle cx="1386.80" cy="682.90" r="9.4" fill="#de2b1c" stroke="#1a1a1a" stroke-width="1"/>
</svg></body></html>
